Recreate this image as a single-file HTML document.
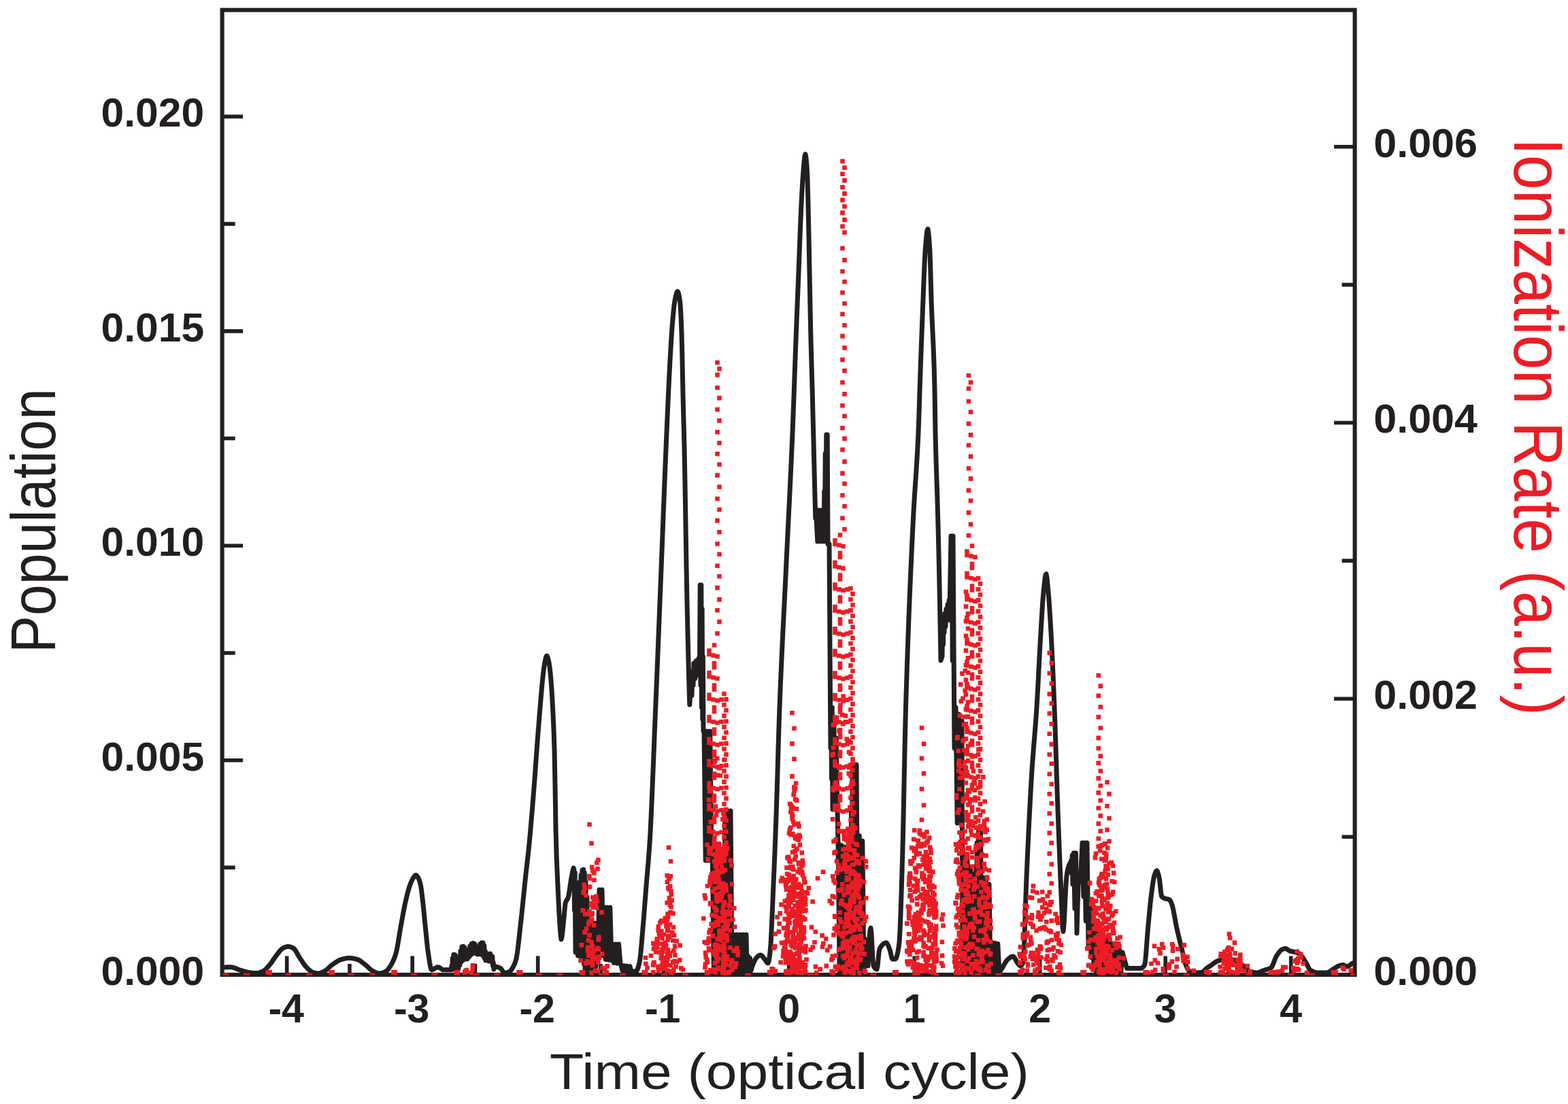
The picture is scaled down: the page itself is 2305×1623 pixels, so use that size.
<!DOCTYPE html>
<html lang="en"><head><meta charset="utf-8"><title>Population and Ionization Rate vs Time</title>
<style>html,body{margin:0;padding:0;background:#fff;}body{width:2305px;height:1623px;overflow:hidden;}svg{display:block;}text{font-family:"Liberation Sans",sans-serif;}.tk{font-weight:bold;font-size:59.2px;fill:#231f20;}</style></head><body>
<svg width="2305" height="1623" viewBox="0 0 2305 1623" role="img" aria-label="Population and ionization rate versus time (optical cycle)">
<rect width="2305" height="1623" fill="#fff"/>
<defs><clipPath id="pc"><rect x="326.6" y="14.7" width="1665.0" height="1421.3"/></clipPath></defs>
<path d="M326.60 1433.10h30.55M326.60 1275.39h19.05M326.60 1117.68h30.55M326.60 959.97h19.05M326.60 802.26h30.55M326.60 644.55h19.05M326.60 486.84h30.55M326.60 329.13h19.05M326.60 171.42h30.55M1991.60 1433.10h-30.55M1991.60 1230.20h-19.05M1991.60 1027.30h-30.55M1991.60 824.40h-19.05M1991.60 621.50h-30.55M1991.60 418.60h-19.05M1991.60 215.70h-30.55M421.70 1433.00v-27.55M513.95 1433.00v-16.05M606.20 1433.00v-27.55M698.45 1433.00v-16.05M790.70 1433.00v-27.55M882.95 1433.00v-16.05M975.20 1433.00v-27.55M1067.45 1433.00v-16.05M1159.70 1433.00v-27.55M1251.95 1433.00v-16.05M1344.20 1433.00v-27.55M1436.45 1433.00v-16.05M1528.70 1433.00v-27.55M1620.95 1433.00v-16.05M1713.20 1433.00v-27.55M1805.45 1433.00v-16.05M1897.70 1433.00v-27.55" fill="none" stroke="#231f20" stroke-width="5.60"/>
<rect x="326.60" y="14.70" width="1665.00" height="1418.30" fill="none" stroke="#231f20" stroke-width="6.10"/>
<g clip-path="url(#pc)">
<path d="M326.6 1422.5L327.6 1422.3L328.6 1422.2L329.6 1422.1L330.6 1422.0L331.6 1422.0L332.6 1421.9L333.6 1421.9L334.6 1421.8L335.6 1421.8L336.6 1421.8L337.6 1421.8L338.6 1421.8L339.6 1421.8L340.6 1421.9L341.6 1422.1L342.6 1422.3L343.6 1422.6L344.6 1422.9L345.6 1423.3L346.6 1423.7L347.6 1424.1L348.6 1424.5L349.6 1424.9L350.6 1425.3L351.6 1425.7L352.6 1426.0L353.6 1426.3L354.6 1426.6L355.6 1426.9L356.6 1427.2L357.6 1427.5L358.6 1427.8L359.6 1428.2L360.6 1428.4L361.6 1428.7L362.6 1429.0L363.6 1429.2L364.6 1429.5L365.6 1429.7L366.6 1429.8L367.6 1430.0L368.6 1430.1L369.6 1430.2L370.6 1430.2L371.6 1430.3L372.6 1430.4L373.6 1430.5L374.6 1430.5L375.6 1430.6L376.6 1430.6L377.6 1430.6L378.6 1430.5L379.6 1430.4L380.6 1430.2L381.6 1429.9L382.6 1429.5L383.6 1429.1L384.6 1428.7L385.6 1428.3L386.6 1427.8L387.6 1427.3L388.6 1426.6L389.6 1425.8L390.6 1424.9L391.6 1423.9L392.6 1422.8L393.6 1421.7L394.6 1420.5L395.6 1419.3L396.6 1418.1L397.6 1416.9L398.6 1415.6L399.6 1414.2L400.6 1412.7L401.6 1411.2L402.6 1409.7L403.6 1408.3L404.6 1406.8L405.6 1405.5L406.6 1404.2L407.6 1402.9L408.6 1401.6L409.6 1400.3L410.6 1399.0L411.6 1397.8L412.6 1396.7L413.6 1395.7L414.6 1394.8L415.6 1394.2L416.6 1393.7L417.6 1393.2L418.6 1392.7L419.6 1392.3L420.6 1392.0L421.6 1391.7L422.6 1391.6L423.6 1391.5L424.6 1391.6L425.6 1391.7L426.6 1392.0L427.6 1392.3L428.6 1392.7L429.6 1393.2L430.6 1393.7L431.6 1394.2L432.6 1395.1L433.6 1396.3L434.6 1397.8L435.6 1399.4L436.6 1401.2L437.6 1403.0L438.6 1404.8L439.6 1406.5L440.6 1408.1L441.6 1409.6L442.6 1411.1L443.6 1412.6L444.6 1414.1L445.6 1415.6L446.6 1417.1L447.6 1418.5L448.6 1419.7L449.6 1420.9L450.6 1422.0L451.6 1423.0L452.6 1424.0L453.6 1425.0L454.6 1426.0L455.6 1426.8L456.6 1427.6L457.6 1428.3L458.6 1428.9L459.6 1429.4L460.6 1429.7L461.6 1430.0L462.6 1430.3L463.6 1430.5L464.6 1430.7L465.6 1430.9L466.6 1431.0L467.6 1431.0L468.6 1430.9L469.6 1430.8L470.6 1430.5L471.6 1430.2L472.6 1429.8L473.6 1429.4L474.6 1428.9L475.6 1428.4L476.6 1427.9L477.6 1427.4L478.6 1426.8L479.6 1426.1L480.6 1425.2L481.6 1424.3L482.6 1423.4L483.6 1422.4L484.6 1421.5L485.6 1420.5L486.6 1419.6L487.6 1418.8L488.6 1418.1L489.6 1417.4L490.6 1416.7L491.6 1416.0L492.6 1415.3L493.6 1414.7L494.6 1414.0L495.6 1413.4L496.6 1412.8L497.6 1412.2L498.6 1411.7L499.6 1411.3L500.6 1410.9L501.6 1410.5L502.6 1410.3L503.6 1410.0L504.6 1409.8L505.6 1409.5L506.6 1409.3L507.6 1409.1L508.6 1408.9L509.6 1408.7L510.6 1408.6L511.6 1408.5L512.6 1408.4L513.6 1408.4L514.6 1408.4L515.6 1408.5L516.6 1408.6L517.6 1408.7L518.6 1408.9L519.6 1409.1L520.6 1409.3L521.6 1409.5L522.6 1409.7L523.6 1410.0L524.6 1410.3L525.6 1410.6L526.6 1410.9L527.6 1411.4L528.6 1412.0L529.6 1412.6L530.6 1413.4L531.6 1414.1L532.6 1414.9L533.6 1415.7L534.6 1416.5L535.6 1417.2L536.6 1418.0L537.6 1418.8L538.6 1419.6L539.6 1420.5L540.6 1421.5L541.6 1422.4L542.6 1423.4L543.6 1424.3L544.6 1425.2L545.6 1426.0L546.6 1426.7L547.6 1427.3L548.6 1427.8L549.6 1428.3L550.6 1428.8L551.6 1429.3L552.6 1429.8L553.6 1430.2L554.6 1430.5L555.6 1430.8L556.6 1430.9L557.6 1431.0L558.6 1431.0L559.6 1430.8L560.6 1430.7L561.6 1430.4L562.6 1430.1L563.6 1429.7L564.6 1429.3L565.6 1428.8L566.6 1428.4L567.6 1427.8L568.6 1427.1L569.6 1426.1L570.6 1424.9L571.6 1423.6L572.6 1422.1L573.6 1420.6L574.6 1419.0L575.6 1417.3L576.6 1415.5L577.6 1413.4L578.6 1411.2L579.6 1408.7L580.6 1406.0L581.6 1403.0L582.6 1399.4L583.6 1394.8L584.6 1389.4L585.6 1383.5L586.6 1377.3L587.6 1371.1L588.6 1365.2L589.6 1359.7L590.6 1354.2L591.6 1348.7L592.6 1343.2L593.6 1337.8L594.6 1332.7L595.6 1327.9L596.6 1323.5L597.6 1319.3L598.6 1315.2L599.6 1311.3L600.6 1307.7L601.6 1304.3L602.6 1301.3L603.6 1298.7L604.6 1296.3L605.6 1294.2L606.6 1292.2L607.6 1290.6L608.6 1289.1L609.6 1287.7L610.6 1286.7L611.6 1286.6L612.6 1287.3L613.6 1288.6L614.6 1290.2L615.6 1292.1L616.6 1294.7L617.6 1298.1L618.6 1302.4L619.6 1309.1L620.6 1317.3L621.6 1325.9L622.6 1335.3L623.6 1345.6L624.6 1356.1L625.6 1365.9L626.6 1375.8L627.6 1385.7L628.6 1394.6L629.6 1402.0L630.6 1408.6L631.6 1415.1L632.6 1420.6L633.6 1424.5L634.6 1425.7L635.6 1425.6L636.6 1425.2L637.6 1424.7L638.6 1424.1L639.6 1423.5L640.6 1422.9L641.6 1422.4L642.6 1422.0L643.6 1421.8L644.6 1421.9L645.6 1422.2L646.6 1422.8L647.6 1423.6L648.6 1424.3L649.6 1425.0L650.6 1425.5L651.6 1425.7L652.6 1425.7L653.6 1425.7L654.6 1425.7L655.6 1425.7L656.6 1425.7L657.6 1425.7L658.6 1425.7L659.6 1425.7L660.6 1425.7L661.6 1425.7L662.6 1425.7L663.2 1425.7L663.9 1420.0L664.6 1425.3L665.3 1408.7L666.0 1425.0L667.0 1403.2L668.0 1425.0L669.0 1403.8L670.0 1425.0L671.0 1407.0L672.0 1424.5L673.0 1413.0L674.0 1424.0L675.0 1410.0L676.0 1419.0L677.0 1398.0L678.0 1414.0L679.0 1391.8L680.0 1412.0L681.0 1391.2L682.0 1410.0L683.2 1393.2L684.5 1410.0L685.8 1397.8L687.0 1410.0L688.2 1397.0L689.5 1407.0L690.8 1391.0L692.0 1404.0L693.2 1387.5L694.5 1402.0L695.8 1386.5L697.0 1400.0L698.2 1388.0L699.5 1401.5L700.8 1392.0L702.0 1403.0L703.2 1392.0L704.5 1402.5L705.8 1388.0L707.0 1402.0L708.0 1386.0L709.0 1404.0L710.0 1386.0L711.0 1406.0L711.8 1390.0L712.5 1409.0L713.2 1398.0L714.0 1412.0L716.2 1402.0L718.5 1413.0L720.8 1402.0L723.0 1414.0L723.8 1406.2L724.5 1419.5L725.2 1414.8L726.0 1425.0L728.0 1421.0L729.0 1421.1L730.0 1421.2L731.0 1421.5L732.0 1421.8L733.0 1422.2L734.0 1422.7L735.0 1423.2L736.0 1423.7L737.0 1424.6L738.0 1426.0L739.0 1427.6L740.0 1429.1L741.0 1430.1L742.0 1430.4L743.0 1430.3L744.0 1430.2L745.0 1429.9L746.0 1429.6L747.0 1429.2L748.0 1428.8L749.0 1428.3L750.0 1427.7L751.0 1426.7L752.0 1425.3L753.0 1423.7L754.0 1422.0L755.0 1420.2L756.0 1418.1L757.0 1415.7L758.0 1412.7L759.0 1409.0L760.0 1403.5L761.0 1396.5L762.0 1388.4L763.0 1379.5L764.0 1370.2L765.0 1360.9L766.0 1352.0L767.0 1343.1L768.0 1333.7L769.0 1323.9L770.0 1314.1L771.0 1304.3L772.0 1294.7L773.0 1285.4L774.0 1276.6L775.0 1268.0L776.0 1259.2L777.0 1249.9L778.0 1239.9L779.0 1229.3L780.0 1218.3L781.0 1206.8L782.0 1195.0L783.0 1182.9L784.0 1170.5L785.0 1158.0L786.0 1145.0L787.0 1131.2L788.0 1117.3L789.0 1103.4L790.0 1090.0L791.0 1077.1L792.0 1064.5L793.0 1052.1L794.0 1040.0L795.0 1027.9L796.0 1016.0L797.0 1004.9L798.0 995.3L799.0 986.4L800.0 978.9L801.0 973.4L802.0 968.5L803.0 964.9L804.0 964.1L805.0 965.9L806.0 969.6L807.0 974.0L808.0 980.3L809.0 989.2L810.0 1000.0L811.0 1013.5L812.0 1030.5L813.0 1049.9L814.0 1072.5L815.0 1102.0L816.0 1154.7L817.0 1217.4L818.0 1255.6L819.0 1280.4L820.0 1302.0L821.0 1324.0L822.0 1343.9L823.0 1359.7L824.0 1374.3L825.0 1381.0L826.0 1377.6L827.0 1369.4L828.0 1359.2L829.0 1349.6L830.0 1337.8L831.0 1328.2L832.0 1325.0L833.0 1323.4L834.0 1322.1L835.0 1320.0L836.0 1315.9L837.0 1309.9L838.0 1303.0L839.0 1296.0L840.0 1290.0L841.0 1285.0L842.0 1280.3L843.0 1276.0L843.8 1278.2L844.5 1338.0L845.2 1282.8L846.0 1400.0L848.0 1300.0L849.5 1405.0L850.4 1310.2L851.2 1405.0L852.1 1296.8L853.0 1405.0L854.0 1286.5L855.0 1407.5L855.9 1279.5L856.9 1410.0L857.7 1278.2L858.5 1417.5L859.2 1282.8L860.0 1425.0L861.0 1296.2L862.0 1427.5L863.0 1318.8L864.0 1430.0L865.0 1357.0L867.2 1428.3L869.3 1357.0L871.5 1425.0L873.7 1357.0L875.8 1421.7L878.0 1357.0L879.0 1405.0L881.0 1308.0L883.0 1405.0L885.0 1308.0L887.0 1405.0L888.0 1334.0L890.2 1410.4L892.4 1334.0L894.6 1411.2L896.8 1334.0L899.0 1412.0L900.0 1388.0L902.4 1415.4L904.8 1388.0L907.2 1416.2L909.6 1388.0L912.0 1417.0L913.0 1419.0L915.1 1427.1L917.3 1419.6L919.4 1427.4L921.6 1420.1L923.7 1427.7L925.9 1420.7L928.0 1428.0L935.0 1428.0L936.0 1427.3L937.0 1425.4L938.0 1422.5L939.0 1419.0L940.0 1415.0L941.0 1408.9L942.0 1399.8L943.0 1388.6L944.0 1376.7L945.0 1365.0L946.0 1353.3L947.0 1340.8L948.0 1327.8L949.0 1314.8L950.0 1302.0L951.0 1290.1L952.0 1278.7L953.0 1267.1L954.0 1254.5L955.0 1240.0L956.0 1222.9L957.0 1203.2L958.0 1181.4L959.0 1158.0L960.0 1133.4L961.0 1108.3L962.0 1083.0L963.0 1058.1L964.0 1034.0L965.0 1010.0L966.0 985.6L967.0 960.9L968.0 936.0L969.0 911.0L970.0 886.0L971.0 860.9L972.0 836.0L973.0 810.9L974.0 785.3L975.0 759.6L976.0 733.9L977.0 708.5L978.0 683.6L979.0 659.3L980.0 636.0L981.0 613.2L982.0 590.9L983.0 569.3L984.0 548.8L985.0 530.0L986.0 512.4L987.0 495.8L988.0 481.3L989.0 469.2L990.0 458.1L991.0 448.7L992.0 442.0L993.0 437.1L994.0 432.7L995.0 429.7L996.0 428.5L997.0 429.8L998.0 433.4L999.0 438.8L1000.0 446.8L1001.0 463.9L1002.0 489.7L1003.0 530.0L1004.0 581.0L1005.0 620.0L1006.0 657.5L1007.0 711.0L1008.0 772.1L1009.0 833.1L1010.0 886.0L1011.0 930.8L1012.0 972.3L1013.0 1010.1L1013.8 1036.0L1016.0 1000.0L1017.0 1022.5L1018.0 987.5L1019.0 1007.5L1020.0 975.0L1021.8 997.5L1023.5 971.5L1025.2 992.5L1027.0 968.0L1028.5 975.0L1029.2 860.0L1030.0 1007.5L1030.8 860.0L1031.5 1040.0L1032.1 895.0L1032.8 1057.5L1033.4 965.0L1034.0 1075.0L1035.0 1075.0L1037.2 1265.0L1039.4 1075.0L1041.6 1265.0L1043.8 1075.0L1046.0 1265.0L1047.0 1240.0L1049.4 1430.0L1051.9 1242.9L1054.3 1430.0L1056.7 1245.7L1059.1 1430.0L1061.6 1248.6L1064.0 1430.0L1066.0 1192.0L1068.0 1430.0L1070.0 1192.0L1072.0 1430.0L1074.0 1192.0L1076.0 1430.0L1078.3 1374.0L1080.7 1430.0L1083.0 1374.0L1085.3 1430.0L1087.7 1374.0L1090.0 1430.0L1092.3 1374.0L1094.7 1430.0L1097.0 1374.0L1098.0 1427.0L1099.5 1405.5L1101.0 1427.0L1102.5 1408.5L1104.0 1427.0L1106.0 1420.0L1107.0 1417.4L1108.0 1415.0L1109.0 1412.8L1110.0 1410.8L1111.0 1409.2L1112.0 1408.0L1113.0 1407.0L1114.0 1406.1L1115.0 1405.2L1116.0 1404.6L1117.0 1404.2L1118.0 1404.0L1119.0 1404.3L1120.0 1405.1L1121.0 1406.2L1122.0 1407.5L1123.0 1408.8L1124.0 1410.0L1125.0 1411.3L1126.0 1412.9L1127.0 1414.4L1128.0 1415.6L1129.0 1416.0L1130.0 1413.6L1131.0 1407.7L1132.0 1400.0L1133.0 1388.0L1134.0 1369.7L1135.0 1347.4L1136.0 1323.4L1137.0 1300.0L1138.0 1277.1L1139.0 1252.8L1140.0 1227.2L1141.0 1200.0L1142.0 1169.7L1143.0 1136.2L1144.0 1101.8L1145.0 1069.0L1146.0 1040.0L1147.0 1014.7L1148.0 991.0L1149.0 968.8L1150.0 947.5L1151.0 927.0L1152.0 907.0L1153.0 887.1L1154.0 867.0L1155.0 846.5L1156.0 825.5L1157.0 804.8L1158.0 784.5L1159.0 764.5L1160.0 744.4L1161.0 724.0L1162.0 703.2L1163.0 681.8L1164.0 659.4L1165.0 636.0L1166.0 610.6L1167.0 583.3L1168.0 555.1L1169.0 526.9L1170.0 500.0L1171.0 474.4L1172.0 449.5L1173.0 424.8L1174.0 400.0L1175.0 374.0L1176.0 347.4L1177.0 322.1L1178.0 300.0L1179.0 280.7L1180.0 263.6L1181.0 250.0L1182.0 238.4L1183.0 229.1L1184.0 226.7L1185.0 232.2L1186.0 243.1L1187.0 261.8L1188.0 300.0L1189.0 347.4L1190.0 400.0L1191.0 452.4L1192.0 500.0L1193.0 534.8L1194.0 569.4L1195.0 609.1L1196.0 650.0L1197.0 690.5L1198.0 731.2L1198.8 762.0L1199.5 750.0L1201.8 796.0L1204.1 750.0L1206.4 796.0L1208.7 750.0L1211.0 796.0L1211.8 722.2L1212.5 778.0L1213.2 666.8L1214.0 760.0L1214.8 639.0L1215.5 780.0L1216.2 639.0L1217.0 800.0L1219.0 800.0L1221.0 1100.0L1221.8 1040.0L1222.5 1145.0L1223.2 1040.0L1224.0 1190.0L1225.8 1055.0L1227.5 1190.0L1229.2 1085.0L1231.0 1190.0L1232.0 1240.0L1234.2 1430.0L1236.5 1242.5L1238.8 1430.0L1241.0 1245.0L1243.2 1430.0L1245.5 1247.5L1247.8 1430.0L1250.0 1250.0L1250.8 1430.0L1251.5 1187.0L1252.2 1430.0L1253.0 1124.0L1254.5 1430.0L1256.0 1124.0L1257.5 1430.0L1259.0 1124.0L1261.0 1430.0L1263.2 1228.8L1265.5 1430.0L1267.8 1236.2L1270.0 1430.0L1271.0 1380.0L1276.0 1420.0L1277.0 1395.5L1278.0 1378.0L1279.0 1367.5L1280.0 1364.0L1281.0 1372.4L1282.0 1391.0L1283.0 1410.2L1284.0 1420.0L1285.0 1421.8L1286.0 1423.1L1287.0 1424.2L1288.0 1424.8L1289.0 1425.0L1290.0 1420.7L1291.0 1410.9L1292.0 1400.7L1293.0 1395.0L1294.0 1393.2L1295.0 1391.7L1296.0 1390.3L1297.0 1389.1L1298.0 1388.1L1299.0 1387.3L1300.0 1386.7L1301.0 1386.3L1302.0 1386.1L1303.0 1386.0L1304.0 1386.9L1305.0 1388.6L1306.0 1390.8L1307.0 1393.4L1308.0 1396.0L1309.0 1399.6L1310.0 1404.3L1311.0 1408.3L1312.0 1410.0L1313.0 1410.0L1314.0 1410.0L1315.0 1410.0L1316.0 1410.0L1317.0 1409.2L1318.0 1407.0L1319.0 1403.4L1320.0 1398.7L1321.0 1393.1L1322.0 1385.3L1323.0 1368.4L1324.0 1343.6L1325.0 1313.6L1326.0 1281.2L1327.0 1247.2L1328.0 1203.3L1329.0 1153.4L1330.0 1103.1L1331.0 1058.4L1332.0 1023.5L1333.0 991.9L1334.0 962.1L1335.0 934.0L1336.0 907.5L1337.0 882.3L1338.0 858.3L1339.0 835.5L1340.0 813.6L1341.0 792.5L1342.0 772.0L1343.0 752.4L1344.0 735.2L1345.0 719.8L1346.0 705.3L1347.0 690.6L1348.0 674.8L1349.0 656.9L1350.0 636.0L1351.0 607.9L1352.0 575.2L1353.0 545.8L1354.0 518.1L1355.0 491.2L1356.0 465.2L1357.0 440.0L1358.0 413.8L1359.0 388.5L1360.0 370.0L1361.0 357.1L1362.0 345.9L1363.0 338.4L1364.0 336.8L1365.0 342.6L1366.0 354.5L1367.0 370.0L1368.0 401.7L1369.0 440.0L1370.0 466.0L1371.0 487.1L1372.0 508.3L1373.0 534.3L1374.0 572.3L1375.0 636.0L1376.0 675.0L1377.0 705.9L1378.0 735.9L1379.0 771.8L1380.0 814.1L1381.0 861.0L1382.0 913.2L1383.0 971.0L1385.0 965.0L1385.8 923.8L1386.5 947.5L1387.2 911.2L1388.0 930.0L1389.0 901.8L1390.0 921.0L1391.0 895.2L1392.0 912.0L1393.0 889.0L1394.0 906.0L1395.0 883.0L1396.0 900.0L1398.0 788.0L1398.8 913.8L1399.5 788.0L1400.2 971.2L1401.0 788.0L1403.0 1100.0L1405.0 1040.0L1407.2 1210.0L1409.5 1050.0L1411.8 1210.0L1414.0 1060.0L1415.0 1430.0L1417.4 1255.0L1419.8 1430.0L1422.1 1265.0L1424.5 1430.0L1426.9 1275.0L1429.2 1430.0L1431.6 1285.0L1434.0 1430.0L1434.8 1273.0L1435.5 1430.0L1436.2 1239.0L1437.0 1430.0L1438.5 1222.0L1440.0 1430.0L1441.5 1222.0L1443.0 1430.0L1445.0 1290.0L1447.2 1430.0L1449.5 1295.0L1451.8 1430.0L1454.0 1300.0L1456.0 1430.0L1458.2 1385.5L1460.3 1430.0L1462.5 1386.5L1464.7 1430.0L1466.8 1387.5L1469.0 1430.0L1474.0 1422.0L1475.0 1420.0L1476.0 1418.2L1477.0 1416.4L1478.0 1414.8L1479.0 1413.4L1480.0 1412.0L1481.0 1410.9L1482.0 1410.0L1483.0 1409.2L1484.0 1408.4L1485.0 1407.6L1486.0 1407.0L1487.0 1406.5L1488.0 1406.1L1489.0 1406.0L1490.0 1406.4L1491.0 1407.5L1492.0 1409.1L1493.0 1410.9L1494.0 1412.8L1495.0 1414.6L1496.0 1416.0L1497.0 1417.3L1498.0 1418.6L1499.0 1419.6L1500.0 1420.0L1501.0 1419.7L1502.0 1418.7L1503.0 1417.1L1504.0 1415.0L1505.0 1404.1L1506.0 1380.1L1507.0 1349.0L1508.0 1317.0L1509.0 1290.0L1510.0 1267.7L1511.0 1245.9L1512.0 1224.5L1513.0 1203.9L1514.0 1184.2L1515.0 1165.6L1516.0 1148.2L1517.0 1132.2L1518.0 1118.0L1519.0 1104.9L1520.0 1092.6L1521.0 1080.5L1522.0 1068.0L1523.0 1054.7L1524.0 1040.0L1525.0 1023.3L1526.0 1005.0L1527.0 985.6L1528.0 966.2L1529.0 947.4L1530.0 930.0L1531.0 913.2L1532.0 896.6L1533.0 881.7L1534.0 870.0L1535.0 860.2L1536.0 851.3L1537.0 845.1L1538.0 843.8L1539.0 849.2L1540.0 859.0L1541.0 870.0L1542.0 881.9L1543.0 896.4L1544.0 912.6L1545.0 930.0L1546.0 948.7L1547.0 969.3L1548.0 991.5L1549.0 1015.1L1550.0 1040.0L1551.0 1067.5L1552.0 1098.0L1553.0 1129.7L1554.0 1161.0L1555.0 1190.0L1556.0 1216.9L1557.0 1243.1L1558.0 1268.3L1559.0 1292.3L1560.0 1315.0L1561.0 1340.4L1562.0 1363.2L1563.0 1369.5L1564.0 1359.7L1565.0 1341.1L1566.0 1319.4L1567.0 1299.9L1568.0 1287.8L1569.0 1281.0L1570.0 1276.9L1571.0 1273.4L1572.0 1270.6L1573.0 1268.7L1574.0 1268.0L1574.8 1264.5L1575.5 1284.0L1576.2 1257.5L1577.0 1300.0L1578.5 1254.0L1580.0 1336.0L1581.5 1254.0L1583.0 1372.0L1585.0 1300.0L1586.0 1296.9L1587.0 1292.5L1588.0 1287.1L1589.0 1280.0L1591.0 1239.0L1592.8 1318.0L1594.5 1239.0L1596.2 1354.0L1598.0 1239.0L1600.0 1390.0L1602.0 1328.0L1604.0 1407.5L1606.0 1328.0L1608.0 1425.0L1609.0 1365.0L1611.3 1430.0L1613.6 1368.9L1615.8 1430.0L1618.1 1372.8L1620.4 1430.0L1622.7 1376.7L1624.9 1430.0L1627.2 1380.6L1629.5 1430.0L1631.8 1384.4L1634.1 1430.0L1636.3 1388.3L1638.6 1430.0L1640.9 1392.2L1643.2 1430.0L1645.4 1396.1L1647.7 1430.0L1650.0 1400.0L1656.5 1423.5L1657.5 1423.5L1658.5 1423.5L1659.5 1423.5L1660.5 1423.5L1661.5 1423.5L1662.5 1423.5L1663.5 1423.5L1664.5 1423.5L1665.5 1423.5L1666.5 1423.5L1667.5 1423.5L1668.5 1423.5L1669.5 1423.5L1670.5 1423.5L1671.5 1423.5L1672.5 1423.5L1673.5 1423.5L1674.5 1423.5L1675.5 1423.5L1676.5 1423.5L1677.5 1423.4L1678.5 1423.0L1679.5 1422.3L1680.5 1421.4L1681.5 1420.3L1682.5 1419.0L1683.5 1414.1L1684.5 1403.9L1685.5 1390.8L1686.5 1377.0L1687.5 1365.0L1688.5 1354.4L1689.5 1343.6L1690.5 1333.1L1691.5 1323.4L1692.5 1315.0L1693.5 1307.4L1694.5 1300.1L1695.5 1293.7L1696.5 1288.8L1697.5 1285.5L1698.5 1282.8L1699.5 1280.8L1700.5 1280.0L1701.5 1281.1L1702.5 1284.1L1703.5 1287.9L1704.5 1292.8L1705.5 1301.7L1706.5 1311.3L1707.5 1317.5L1708.5 1318.7L1709.5 1319.5L1710.5 1320.1L1711.5 1320.5L1712.5 1320.8L1713.5 1321.2L1714.5 1321.4L1715.5 1321.6L1716.5 1321.7L1717.5 1322.0L1718.5 1322.3L1719.5 1322.9L1720.5 1324.4L1721.5 1326.5L1722.5 1329.0L1723.5 1332.1L1724.5 1336.3L1725.5 1341.2L1726.5 1346.6L1727.5 1352.1L1728.5 1357.6L1729.5 1362.7L1730.5 1367.2L1731.5 1371.5L1732.5 1375.8L1733.5 1379.9L1734.5 1384.0L1735.5 1388.0L1736.5 1392.0L1737.5 1396.0L1738.5 1400.2L1739.5 1404.6L1740.5 1408.9L1741.5 1413.0L1742.5 1416.6L1743.5 1419.4L1744.5 1421.6L1745.5 1423.5L1746.5 1425.3L1747.5 1426.9L1748.5 1428.1L1749.5 1428.8L1750.5 1429.1L1751.5 1429.3L1752.5 1429.5L1753.5 1429.7L1754.5 1429.8L1755.5 1429.9L1756.5 1430.0L1757.5 1430.0L1758.5 1430.0L1759.5 1430.0L1760.5 1429.9L1761.5 1429.9L1762.5 1429.8L1763.5 1429.7L1764.5 1429.6L1765.5 1429.4L1766.5 1429.3L1767.5 1429.1L1768.5 1428.8L1769.5 1428.0L1770.5 1426.9L1771.5 1425.6L1772.5 1424.5L1773.5 1423.6L1774.5 1422.9L1775.5 1422.2L1776.5 1421.6L1777.5 1421.0L1778.5 1420.3L1779.5 1419.7L1780.5 1419.0L1781.5 1418.2L1782.5 1417.5L1783.5 1416.7L1784.5 1416.0L1785.5 1415.3L1786.5 1414.6L1787.5 1414.0L1788.5 1413.5L1789.5 1413.0L1790.5 1412.6L1791.5 1412.2L1792.5 1411.8L1793.5 1411.4L1794.5 1411.1L1795.5 1410.8L1796.5 1410.5L1797.5 1410.3L1798.5 1410.1L1799.5 1410.0L1800.5 1410.0L1801.5 1410.0L1802.5 1410.1L1803.5 1410.1L1804.5 1410.2L1805.5 1410.2L1806.5 1410.3L1807.5 1410.4L1808.5 1410.5L1809.5 1410.7L1810.5 1410.8L1811.5 1410.9L1812.5 1411.1L1813.5 1411.3L1814.5 1411.6L1815.5 1412.0L1816.5 1412.5L1817.5 1413.0L1818.5 1413.6L1819.5 1414.2L1820.5 1414.8L1821.5 1415.5L1822.5 1416.2L1823.5 1416.9L1824.5 1417.6L1825.5 1418.3L1826.5 1419.0L1827.5 1419.8L1828.5 1420.6L1829.5 1421.6L1830.5 1422.7L1831.5 1423.7L1832.5 1424.7L1833.5 1425.7L1834.5 1426.6L1835.5 1427.3L1836.5 1427.8L1837.5 1428.2L1838.5 1428.5L1839.5 1428.7L1840.5 1429.0L1841.5 1429.2L1842.5 1429.5L1843.5 1429.6L1844.5 1429.8L1845.5 1429.9L1846.5 1430.0L1847.5 1430.0L1848.5 1429.9L1849.5 1429.8L1850.5 1429.5L1851.5 1429.2L1852.5 1428.8L1853.5 1428.4L1854.5 1428.0L1855.5 1427.5L1856.5 1427.1L1857.5 1426.7L1858.5 1426.3L1859.5 1426.0L1860.5 1425.7L1861.5 1425.4L1862.5 1425.2L1863.5 1424.8L1864.5 1424.5L1865.5 1424.1L1866.5 1423.7L1867.5 1423.2L1868.5 1422.6L1869.5 1421.6L1870.5 1419.8L1871.5 1417.5L1872.5 1414.9L1873.5 1412.2L1874.5 1409.6L1875.5 1407.2L1876.5 1405.4L1877.5 1403.9L1878.5 1402.4L1879.5 1401.0L1880.5 1399.6L1881.5 1398.4L1882.5 1397.4L1883.5 1396.6L1884.5 1396.0L1885.5 1395.6L1886.5 1395.2L1887.5 1394.8L1888.5 1394.6L1889.5 1394.5L1890.5 1394.6L1891.5 1395.1L1892.5 1395.7L1893.5 1396.5L1894.5 1397.2L1895.5 1397.8L1896.5 1398.1L1897.5 1398.4L1898.5 1398.6L1899.5 1398.8L1900.5 1399.0L1901.5 1399.2L1902.5 1399.4L1903.5 1399.7L1904.5 1399.9L1905.5 1400.2L1906.5 1400.5L1907.5 1400.9L1908.5 1401.3L1909.5 1401.7L1910.5 1402.3L1911.5 1403.1L1912.5 1404.2L1913.5 1405.5L1914.5 1406.9L1915.5 1408.4L1916.5 1409.9L1917.5 1411.5L1918.5 1413.0L1919.5 1414.6L1920.5 1416.4L1921.5 1418.4L1922.5 1420.5L1923.5 1422.4L1924.5 1424.1L1925.5 1425.5L1926.5 1426.4L1927.5 1427.0L1928.5 1427.5L1929.5 1428.0L1930.5 1428.5L1931.5 1428.9L1932.5 1429.2L1933.5 1429.5L1934.5 1429.8L1935.5 1429.9L1936.5 1430.0L1937.5 1430.0L1938.5 1430.0L1939.5 1430.0L1940.5 1430.0L1941.5 1430.0L1942.5 1430.0L1943.5 1430.0L1944.5 1430.0L1945.5 1430.0L1946.5 1430.0L1947.5 1430.0L1948.5 1430.0L1949.5 1430.0L1950.5 1430.0L1951.5 1429.8L1952.5 1429.4L1953.5 1429.0L1954.5 1428.4L1955.5 1427.7L1956.5 1427.0L1957.5 1426.3L1958.5 1425.6L1959.5 1424.9L1960.5 1424.2L1961.5 1423.7L1962.5 1423.0L1963.5 1422.4L1964.5 1421.8L1965.5 1421.2L1966.5 1420.6L1967.5 1420.2L1968.5 1419.8L1969.5 1419.5L1970.5 1419.2L1971.5 1418.9L1972.5 1418.7L1973.5 1418.6L1974.5 1418.6L1975.5 1419.0L1976.5 1419.5L1977.5 1420.1L1978.5 1420.6L1979.5 1421.0L1980.5 1421.0L1981.5 1420.7L1982.5 1420.2L1983.5 1419.5L1984.5 1418.7L1985.5 1417.9L1986.5 1417.2L1987.5 1416.5L1988.5 1416.0L1989.5 1415.6L1990.5 1415.3L1991.5 1415.0L1991.6 1415.0" fill="none" stroke="#231f20" stroke-width="7.00" stroke-linejoin="round" stroke-linecap="round"/>
<path d="M691.7 1419.4h6.6M691.4 1422.7h6.6M691.5 1424.7h6.6M682.6 1426.1h6.6M680.8 1427.7h6.6M680.0 1429.4h6.6M689.3 1430.0h6.6M863.2 1212.0h6.6M866.2 1239.8h6.6M876.1 1264.3h6.6M874.0 1268.2h6.6M867.0 1274.9h6.6M875.2 1277.3h6.6M868.2 1280.2h6.6M870.1 1283.5h6.6M863.0 1288.1h6.6M863.3 1291.4h6.6M870.1 1293.8h6.6M855.4 1300.8h6.6M863.7 1303.6h6.6M855.9 1305.9h6.6M854.4 1312.1h6.6M858.1 1316.2h6.6M873.2 1317.8h6.6M868.0 1319.4h6.6M869.8 1322.4h6.6M874.5 1324.8h6.6M866.7 1327.8h6.6M872.4 1329.9h6.6M866.7 1331.0h6.6M868.2 1333.9h6.6M874.0 1334.4h6.6M853.4 1338.4h6.6M863.2 1340.4h6.6M881.3 1341.2h6.6M867.3 1342.6h6.6M862.2 1343.7h6.6M857.0 1344.0h6.6M866.3 1345.4h6.6M867.0 1352.4h6.6M862.9 1354.8h6.6M865.1 1355.3h6.6M861.8 1358.4h6.6M869.9 1360.3h6.6M858.7 1365.5h6.6M856.2 1370.6h6.6M863.3 1374.8h6.6M877.1 1377.7h6.6M876.5 1381.1h6.6M861.6 1382.4h6.6M866.4 1385.3h6.6M851.6 1389.4h6.6M867.7 1391.6h6.6M861.2 1392.8h6.6M875.1 1393.7h6.6M876.5 1395.2h6.6M860.7 1396.4h6.6M861.2 1397.4h6.6M869.7 1398.4h6.6M865.1 1399.2h6.6M863.0 1401.9h6.6M881.9 1402.3h6.6M868.2 1403.1h6.6M861.9 1404.7h6.6M875.8 1406.5h6.6M877.9 1407.7h6.6M869.0 1408.6h6.6M871.0 1409.7h6.6M871.9 1410.0h6.6M867.4 1411.3h6.6M850.3 1412.3h6.6M859.8 1413.1h6.6M876.2 1414.4h6.6M861.5 1415.0h6.6M857.8 1416.3h6.6M867.5 1417.6h6.6M867.7 1419.1h6.6M889.3 1420.4h6.6M882.4 1422.8h6.6M885.9 1425.9h6.6M872.0 1426.8h6.6M875.6 1427.6h6.6M888.7 1429.6h6.6M866.1 1430.0h6.6M979.7 1246.0h6.6M982.7 1266.3h6.6M979.7 1289.6h6.6M977.4 1287.0h6.6M982.6 1288.2h6.6M980.6 1291.9h6.6M977.5 1296.8h6.6M981.9 1303.0h6.6M979.0 1305.3h6.6M980.1 1307.2h6.6M983.1 1310.2h6.6M983.6 1314.8h6.6M980.6 1320.0h6.6M984.4 1323.7h6.6M981.3 1326.1h6.6M977.4 1327.1h6.6M981.7 1329.1h6.6M981.6 1330.4h6.6M983.3 1333.3h6.6M982.2 1341.4h6.6M986.3 1342.9h6.6M978.2 1343.6h6.6M979.0 1347.7h6.6M974.5 1349.7h6.6M977.9 1351.1h6.6M976.5 1352.5h6.6M968.8 1353.5h6.6M974.2 1354.7h6.6M967.1 1356.4h6.6M978.7 1358.7h6.6M981.6 1359.4h6.6M976.3 1360.8h6.6M976.2 1361.8h6.6M964.6 1362.2h6.6M986.6 1363.1h6.6M977.8 1364.2h6.6M977.8 1365.2h6.6M978.9 1366.4h6.6M964.4 1367.8h6.6M977.9 1368.3h6.6M969.0 1369.1h6.6M984.7 1370.7h6.6M985.1 1371.5h6.6M965.6 1372.2h6.6M972.5 1373.8h6.6M987.6 1374.7h6.6M966.3 1374.7h6.6M968.1 1375.3h6.6M978.8 1376.2h6.6M966.7 1377.2h6.6M980.9 1378.2h6.6M970.3 1379.5h6.6M962.4 1380.2h6.6M978.3 1381.8h6.6M985.9 1382.7h6.6M991.4 1383.5h6.6M963.1 1384.4h6.6M963.1 1385.9h6.6M974.5 1385.9h6.6M957.0 1386.9h6.6M969.6 1387.5h6.6M958.7 1388.3h6.6M996.3 1389.9h6.6M975.9 1390.2h6.6M988.9 1391.1h6.6M961.2 1392.6h6.6M962.7 1392.4h6.6M972.4 1394.0h6.6M972.3 1394.4h6.6M957.7 1395.0h6.6M969.7 1395.7h6.6M978.8 1396.5h6.6M987.0 1397.8h6.6M971.1 1398.4h6.6M960.8 1399.5h6.6M966.2 1400.2h6.6M981.7 1401.0h6.6M977.9 1401.9h6.6M969.6 1403.0h6.6M978.7 1403.1h6.6M953.6 1405.0h6.6M989.1 1404.3h6.6M981.5 1405.2h6.6M969.2 1406.1h6.6M945.7 1408.0h6.6M968.5 1408.8h6.6M974.6 1408.4h6.6M978.3 1409.8h6.6M970.8 1410.8h6.6M995.9 1411.4h6.6M988.4 1413.0h6.6M976.7 1412.8h6.6M991.4 1413.9h6.6M985.9 1414.4h6.6M958.3 1414.8h6.6M957.5 1416.0h6.6M976.9 1415.8h6.6M946.1 1416.7h6.6M972.5 1416.8h6.6M970.2 1417.9h6.6M956.9 1418.6h6.6M976.7 1419.0h6.6M982.4 1419.1h6.6M965.1 1420.8h6.6M990.2 1421.1h6.6M964.1 1421.5h6.6M948.2 1422.7h6.6M974.6 1422.1h6.6M997.9 1423.4h6.6M971.3 1423.8h6.6M965.6 1424.4h6.6M968.5 1424.7h6.6M987.0 1425.1h6.6M1000.4 1425.5h6.6M978.2 1426.9h6.6M987.0 1427.3h6.6M964.7 1427.4h6.6M983.4 1428.1h6.6M956.9 1429.4h6.6M983.6 1430.0h6.6M1051.2 533.0h6.6M1054.2 542.2h6.6M1051.2 551.1h6.6M1051.2 570.0h6.6M1054.2 585.1h6.6M1051.2 602.0h6.6M1054.2 618.4h6.6M1051.2 635.3h6.6M1054.2 651.2h6.6M1051.2 667.3h6.6M1054.2 682.7h6.6M1051.2 698.6h6.6M1054.2 715.8h6.6M1051.2 733.2h6.6M1054.2 749.3h6.6M1051.2 765.4h6.6M1054.2 782.2h6.6M1051.2 799.5h6.6M1054.2 814.8h6.6M1051.2 831.8h6.6M1054.2 847.3h6.6M1051.2 864.1h6.6M1054.2 881.4h6.6M1051.2 897.3h6.6M1054.2 914.1h6.6M1051.2 931.3h6.6M1039.2 962.0h6.6M1045.2 963.5h6.6M1051.2 965.0h6.6M1039.2 956.5h6.6M1046.7 948.5h6.6M1039.2 994.5h6.6M1045.2 996.0h6.6M1051.2 997.5h6.6M1039.2 989.0h6.6M1046.7 981.0h6.6M1046.7 975.0h6.6M1039.2 1027.0h6.6M1045.2 1028.5h6.6M1051.2 1030.0h6.6M1057.2 1028.5h6.6M1039.2 1021.5h6.6M1046.7 1013.5h6.6M1046.7 1007.5h6.6M1039.2 1059.5h6.6M1045.2 1061.0h6.6M1051.2 1062.5h6.6M1057.2 1061.0h6.6M1039.2 1054.0h6.6M1046.7 1046.0h6.6M1046.7 1040.0h6.6M1039.2 1092.0h6.6M1045.2 1093.5h6.6M1051.2 1095.0h6.6M1057.2 1093.5h6.6M1039.2 1086.5h6.6M1046.7 1078.5h6.6M1046.7 1072.5h6.6M1039.2 1124.5h6.6M1045.2 1126.0h6.6M1051.2 1127.5h6.6M1057.2 1126.0h6.6M1039.2 1119.0h6.6M1046.7 1111.0h6.6M1046.7 1105.0h6.6M1039.2 1157.0h6.6M1045.2 1158.5h6.6M1051.2 1160.0h6.6M1057.2 1158.5h6.6M1039.2 1151.5h6.6M1046.7 1143.5h6.6M1046.7 1137.5h6.6M1039.2 1189.5h6.6M1045.2 1191.0h6.6M1051.2 1192.5h6.6M1057.2 1191.0h6.6M1039.2 1184.0h6.6M1046.7 1176.0h6.6M1046.7 1170.0h6.6M1039.2 1222.0h6.6M1045.2 1223.5h6.6M1051.2 1225.0h6.6M1057.2 1223.5h6.6M1039.2 1216.5h6.6M1046.7 1208.5h6.6M1046.7 1202.5h6.6M1039.2 1254.5h6.6M1045.2 1256.0h6.6M1051.2 1257.5h6.6M1057.2 1256.0h6.6M1039.2 1249.0h6.6M1046.7 1241.0h6.6M1046.7 1235.0h6.6M1061.2 1020.0h6.6M1064.2 1028.1h6.6M1061.2 1036.2h6.6M1064.2 1044.3h6.6M1061.2 1052.4h6.6M1064.2 1060.5h6.6M1061.2 1068.6h6.6M1064.2 1076.7h6.6M1061.2 1084.8h6.6M1064.2 1092.9h6.6M1061.2 1101.0h6.6M1064.2 1109.1h6.6M1061.2 1117.2h6.6M1064.2 1125.3h6.6M1061.2 1133.4h6.6M1064.2 1141.5h6.6M1061.2 1149.6h6.6M1064.2 1157.7h6.6M1061.2 1165.8h6.6M1064.2 1173.9h6.6M1061.2 1182.0h6.6M1064.2 1190.1h6.6M1061.2 1198.2h6.6M1064.2 1206.3h6.6M1061.2 1214.4h6.6M1064.2 1222.5h6.6M1061.2 1230.6h6.6M1064.2 1238.7h6.6M1061.2 1246.8h6.6M1064.2 1254.9h6.6M1061.2 1263.0h6.6M1051.0 1115.0h6.6M1062.1 1116.8h6.6M1047.8 1118.2h6.6M1047.3 1119.7h6.6M1054.1 1129.1h6.6M1051.4 1139.6h6.6M1055.6 1140.3h6.6M1041.3 1161.7h6.6M1039.8 1163.5h6.6M1046.2 1170.7h6.6M1038.7 1175.9h6.6M1045.9 1177.5h6.6M1048.6 1185.5h6.6M1061.2 1192.2h6.6M1059.9 1195.5h6.6M1049.6 1198.5h6.6M1061.8 1202.8h6.6M1059.1 1204.4h6.6M1041.4 1208.4h6.6M1044.2 1222.8h6.6M1047.1 1230.9h6.6M1053.7 1240.6h6.6M1040.8 1246.7h6.6M1041.8 1248.4h6.6M1061.5 1257.0h6.6M1047.8 1240.0h6.6M1036.2 1242.0h6.6M1061.5 1242.7h6.6M1048.6 1243.9h6.6M1047.1 1244.6h6.6M1062.7 1245.7h6.6M1053.0 1246.6h6.6M1066.1 1247.4h6.6M1056.6 1249.0h6.6M1063.6 1251.0h6.6M1050.8 1251.5h6.6M1060.9 1253.0h6.6M1054.8 1254.4h6.6M1054.9 1255.2h6.6M1056.4 1256.8h6.6M1051.4 1257.5h6.6M1049.3 1258.7h6.6M1060.3 1259.9h6.6M1050.0 1261.1h6.6M1055.7 1262.6h6.6M1037.5 1263.5h6.6M1070.8 1264.9h6.6M1061.3 1265.5h6.6M1046.8 1266.3h6.6M1048.8 1267.1h6.6M1050.8 1268.6h6.6M1056.7 1269.2h6.6M1048.4 1272.0h6.6M1072.3 1272.2h6.6M1049.4 1273.7h6.6M1058.0 1275.4h6.6M1050.6 1276.8h6.6M1060.1 1278.7h6.6M1062.7 1279.3h6.6M1056.3 1280.4h6.6M1059.3 1281.4h6.6M1053.7 1282.8h6.6M1047.1 1283.2h6.6M1044.8 1284.2h6.6M1042.4 1286.0h6.6M1042.5 1287.0h6.6M1052.1 1287.9h6.6M1045.8 1288.5h6.6M1041.0 1289.7h6.6M1042.3 1290.4h6.6M1040.9 1291.3h6.6M1047.0 1292.9h6.6M1053.8 1293.9h6.6M1048.4 1294.9h6.6M1040.1 1295.6h6.6M1047.6 1296.8h6.6M1054.6 1297.8h6.6M1059.7 1298.9h6.6M1072.5 1299.8h6.6M1040.8 1300.5h6.6M1063.4 1301.4h6.6M1036.7 1302.5h6.6M1059.3 1303.2h6.6M1052.9 1304.6h6.6M1064.2 1305.9h6.6M1047.5 1306.5h6.6M1061.3 1307.4h6.6M1059.4 1308.5h6.6M1064.5 1309.1h6.6M1043.9 1310.5h6.6M1059.4 1311.8h6.6M1056.5 1312.5h6.6M1057.1 1313.0h6.6M1049.7 1314.6h6.6M1051.7 1315.2h6.6M1032.6 1316.3h6.6M1069.7 1317.4h6.6M1057.7 1318.8h6.6M1053.5 1319.1h6.6M1033.6 1320.6h6.6M1049.9 1321.1h6.6M1054.8 1322.3h6.6M1054.2 1323.5h6.6M1070.5 1324.4h6.6M1050.3 1325.3h6.6M1061.5 1326.2h6.6M1041.4 1327.6h6.6M1040.7 1328.8h6.6M1042.2 1329.1h6.6M1060.8 1330.4h6.6M1068.2 1331.3h6.6M1069.2 1332.5h6.6M1047.0 1333.8h6.6M1059.7 1334.4h6.6M1076.0 1335.2h6.6M1049.1 1336.9h6.6M1049.8 1337.2h6.6M1049.6 1338.7h6.6M1069.7 1339.9h6.6M1063.6 1340.6h6.6M1058.6 1341.4h6.6M1066.4 1342.3h6.6M1063.8 1343.1h6.6M1070.2 1344.3h6.6M1043.3 1345.4h6.6M1048.8 1346.0h6.6M1062.5 1346.1h6.6M1048.8 1347.2h6.6M1060.9 1348.4h6.6M1055.6 1349.5h6.6M1054.2 1350.6h6.6M1031.0 1350.3h6.6M1073.7 1351.5h6.6M1054.5 1352.9h6.6M1059.7 1353.7h6.6M1067.9 1353.7h6.6M1053.0 1354.3h6.6M1063.0 1354.7h6.6M1050.9 1355.3h6.6M1049.2 1356.8h6.6M1050.7 1357.3h6.6M1066.1 1358.8h6.6M1042.5 1358.6h6.6M1052.6 1359.3h6.6M1064.6 1359.7h6.6M1063.4 1360.9h6.6M1046.9 1361.2h6.6M1076.9 1362.5h6.6M1060.3 1363.2h6.6M1064.6 1364.6h6.6M1065.0 1365.6h6.6M1061.3 1366.6h6.6M1041.8 1366.7h6.6M1040.4 1367.6h6.6M1069.4 1367.4h6.6M1056.1 1368.7h6.6M1054.1 1368.2h6.6M1058.2 1369.8h6.6M1054.9 1369.8h6.6M1039.3 1370.9h6.6M1059.2 1370.9h6.6M1057.7 1371.5h6.6M1054.4 1372.2h6.6M1054.4 1373.9h6.6M1054.8 1374.2h6.6M1063.6 1374.7h6.6M1044.6 1375.6h6.6M1064.4 1375.4h6.6M1061.6 1376.8h6.6M1044.5 1376.3h6.6M1064.5 1377.7h6.6M1061.0 1378.7h6.6M1065.4 1378.2h6.6M1056.7 1379.0h6.6M1038.6 1379.6h6.6M1051.6 1380.6h6.6M1056.1 1381.2h6.6M1056.6 1382.1h6.6M1065.2 1382.8h6.6M1038.2 1383.8h6.6M1037.9 1383.6h6.6M1038.7 1384.1h6.6M1032.4 1385.0h6.6M1034.9 1386.2h6.6M1036.7 1386.5h6.6M1060.8 1387.9h6.6M1048.9 1388.3h6.6M1047.4 1389.6h6.6M1051.6 1390.1h6.6M1057.2 1391.5h6.6M1070.3 1393.0h6.6M1079.8 1393.7h6.6M1062.1 1394.0h6.6M1038.7 1394.2h6.6M1051.4 1395.6h6.6M1048.5 1395.8h6.6M1039.5 1397.0h6.6M1056.7 1396.7h6.6M1075.4 1397.6h6.6M1060.1 1398.1h6.6M1044.9 1398.7h6.6M1081.4 1399.3h6.6M1033.8 1400.6h6.6M1048.5 1401.1h6.6M1050.8 1401.5h6.6M1047.0 1402.7h6.6M1062.1 1402.0h6.6M1081.3 1404.0h6.6M1048.8 1404.4h6.6M1060.8 1405.9h6.6M1066.0 1406.2h6.6M1034.3 1407.1h6.6M1050.2 1408.2h6.6M1053.0 1409.0h6.6M1035.9 1410.6h6.6M1065.5 1410.6h6.6M1060.5 1411.1h6.6M1073.1 1411.8h6.6M1059.8 1412.4h6.6M1051.2 1413.1h6.6M1071.8 1414.1h6.6M1036.6 1414.7h6.6M1047.6 1415.9h6.6M1062.5 1416.3h6.6M1078.8 1416.4h6.6M1033.6 1417.5h6.6M1059.9 1417.5h6.6M1063.5 1418.2h6.6M1070.4 1419.2h6.6M1059.9 1419.9h6.6M1033.6 1420.4h6.6M1077.5 1421.4h6.6M1052.8 1422.5h6.6M1033.2 1422.3h6.6M1059.9 1423.7h6.6M1052.2 1424.8h6.6M1060.7 1424.7h6.6M1072.9 1425.7h6.6M1045.8 1425.2h6.6M1059.0 1426.9h6.6M1041.0 1426.4h6.6M1046.2 1427.6h6.6M1041.7 1427.6h6.6M1068.7 1428.5h6.6M1060.5 1428.5h6.6M1064.0 1429.9h6.6M1048.4 1429.3h6.6M1058.7 1430.0h6.6M1067.9 1430.0h6.6M1161.2 1048.0h6.6M1164.2 1070.8h6.6M1161.2 1093.4h6.6M1164.2 1115.7h6.6M1161.2 1141.4h6.6M1166.9 1151.5h6.6M1164.1 1157.0h6.6M1165.9 1159.2h6.6M1164.3 1162.7h6.6M1163.3 1168.2h6.6M1165.8 1175.0h6.6M1167.9 1176.7h6.6M1158.1 1181.8h6.6M1159.9 1184.1h6.6M1159.6 1186.6h6.6M1162.1 1187.1h6.6M1162.8 1188.7h6.6M1167.7 1189.3h6.6M1159.1 1193.6h6.6M1161.1 1196.9h6.6M1161.9 1199.8h6.6M1161.3 1203.7h6.6M1162.9 1207.8h6.6M1170.1 1210.8h6.6M1164.2 1212.1h6.6M1171.2 1214.9h6.6M1158.8 1216.8h6.6M1157.6 1220.0h6.6M1156.7 1225.0h6.6M1162.1 1225.9h6.6M1159.1 1226.9h6.6M1171.4 1227.9h6.6M1165.1 1229.2h6.6M1172.7 1230.3h6.6M1166.5 1231.3h6.6M1165.9 1232.1h6.6M1167.8 1233.2h6.6M1170.5 1234.8h6.6M1172.6 1241.9h6.6M1163.5 1243.7h6.6M1167.9 1247.8h6.6M1168.0 1248.5h6.6M1165.4 1251.4h6.6M1161.8 1252.7h6.6M1175.5 1253.6h6.6M1166.4 1258.8h6.6M1155.9 1259.7h6.6M1154.1 1260.9h6.6M1156.0 1262.0h6.6M1164.9 1263.4h6.6M1176.5 1265.0h6.6M1157.3 1265.6h6.6M1158.6 1266.7h6.6M1170.6 1268.2h6.6M1177.1 1269.3h6.6M1171.0 1270.1h6.6M1176.5 1271.3h6.6M1175.7 1272.7h6.6M1161.9 1274.0h6.6M1158.9 1274.1h6.6M1153.2 1275.6h6.6M1159.9 1276.8h6.6M1172.0 1277.6h6.6M1163.0 1278.3h6.6M1174.3 1279.9h6.6M1171.4 1280.6h6.6M1169.5 1281.9h6.6M1176.0 1282.2h6.6M1174.3 1283.4h6.6M1153.8 1284.7h6.6M1156.3 1286.0h6.6M1176.7 1286.4h6.6M1163.3 1287.9h6.6M1160.8 1288.8h6.6M1161.4 1289.1h6.6M1158.7 1290.0h6.6M1178.6 1291.5h6.6M1167.0 1292.5h6.6M1156.9 1292.6h6.6M1165.3 1293.1h6.6M1153.1 1294.8h6.6M1164.0 1295.5h6.6M1180.3 1296.8h6.6M1162.3 1297.2h6.6M1179.2 1297.3h6.6M1151.5 1298.5h6.6M1170.8 1299.9h6.6M1167.0 1300.0h6.6M1163.7 1301.1h6.6M1152.1 1302.8h6.6M1174.2 1302.1h6.6M1171.7 1303.8h6.6M1160.2 1304.4h6.6M1174.2 1304.9h6.6M1155.7 1305.8h6.6M1157.3 1306.4h6.6M1152.7 1307.6h6.6M1162.5 1308.3h6.6M1158.0 1309.2h6.6M1175.4 1310.1h6.6M1163.2 1312.0h6.6M1164.1 1313.0h6.6M1174.2 1313.1h6.6M1169.1 1313.9h6.6M1165.7 1314.2h6.6M1176.1 1315.3h6.6M1156.1 1316.6h6.6M1171.5 1317.5h6.6M1167.8 1318.0h6.6M1161.3 1318.6h6.6M1179.8 1319.0h6.6M1157.6 1320.2h6.6M1180.9 1321.8h6.6M1174.0 1321.2h6.6M1162.8 1322.9h6.6M1154.3 1323.3h6.6M1150.6 1324.9h6.6M1178.5 1325.7h6.6M1176.1 1325.9h6.6M1170.8 1326.4h6.6M1169.3 1327.0h6.6M1155.9 1327.8h6.6M1180.0 1328.5h6.6M1170.1 1328.8h6.6M1180.9 1329.5h6.6M1176.8 1330.7h6.6M1165.5 1331.5h6.6M1151.8 1332.8h6.6M1155.9 1332.2h6.6M1170.2 1333.7h6.6M1156.4 1333.0h6.6M1169.8 1334.0h6.6M1153.2 1335.4h6.6M1172.7 1335.5h6.6M1178.0 1336.7h6.6M1181.1 1337.8h6.6M1170.6 1337.2h6.6M1161.1 1338.3h6.6M1171.7 1338.5h6.6M1152.9 1339.8h6.6M1174.5 1339.8h6.6M1164.5 1340.1h6.6M1170.7 1341.5h6.6M1166.9 1342.4h6.6M1155.5 1343.0h6.6M1164.6 1343.3h6.6M1161.7 1344.4h6.6M1171.3 1344.3h6.6M1165.9 1345.5h6.6M1173.0 1346.5h6.6M1161.7 1346.4h6.6M1158.1 1347.6h6.6M1175.2 1348.6h6.6M1156.9 1348.4h6.6M1177.0 1349.0h6.6M1180.1 1351.0h6.6M1154.4 1351.8h6.6M1167.6 1352.7h6.6M1156.8 1352.7h6.6M1173.2 1353.2h6.6M1165.1 1354.9h6.6M1169.2 1355.8h6.6M1155.3 1356.3h6.6M1170.0 1356.0h6.6M1168.9 1357.2h6.6M1170.8 1358.4h6.6M1173.7 1358.2h6.6M1172.1 1359.4h6.6M1166.9 1360.5h6.6M1172.9 1361.7h6.6M1165.4 1362.0h6.6M1154.7 1362.3h6.6M1175.1 1363.3h6.6M1178.7 1363.6h6.6M1150.7 1364.8h6.6M1164.4 1365.7h6.6M1165.5 1365.5h6.6M1154.5 1366.9h6.6M1166.7 1367.8h6.6M1174.0 1368.5h6.6M1177.7 1369.6h6.6M1159.4 1370.5h6.6M1178.5 1370.0h6.6M1174.1 1371.8h6.6M1153.0 1372.1h6.6M1162.5 1372.9h6.6M1177.7 1373.7h6.6M1173.2 1374.5h6.6M1152.3 1375.0h6.6M1153.4 1375.4h6.6M1162.5 1376.9h6.6M1155.0 1376.9h6.6M1177.2 1377.2h6.6M1169.2 1378.5h6.6M1164.2 1379.7h6.6M1178.6 1379.2h6.6M1170.4 1380.9h6.6M1154.0 1380.5h6.6M1162.2 1381.7h6.6M1163.8 1381.1h6.6M1165.7 1382.1h6.6M1155.5 1383.7h6.6M1164.5 1383.7h6.6M1158.7 1384.7h6.6M1151.4 1384.8h6.6M1164.9 1385.0h6.6M1148.7 1386.4h6.6M1174.2 1386.0h6.6M1164.2 1387.4h6.6M1151.1 1388.5h6.6M1159.5 1389.2h6.6M1160.0 1389.1h6.6M1181.3 1390.7h6.6M1171.8 1391.3h6.6M1151.0 1391.9h6.6M1161.8 1392.0h6.6M1175.5 1393.0h6.6M1149.7 1393.8h6.6M1166.3 1393.5h6.6M1177.3 1394.7h6.6M1171.3 1395.6h6.6M1171.1 1397.0h6.6M1174.4 1397.7h6.6M1148.2 1397.7h6.6M1151.3 1398.5h6.6M1171.4 1398.4h6.6M1180.8 1399.8h6.6M1157.9 1399.3h6.6M1168.7 1400.9h6.6M1148.4 1400.1h6.6M1158.7 1401.3h6.6M1155.7 1401.1h6.6M1163.1 1402.8h6.6M1168.7 1402.1h6.6M1150.5 1403.0h6.6M1171.3 1403.6h6.6M1161.3 1404.6h6.6M1147.7 1405.9h6.6M1151.9 1406.3h6.6M1161.0 1408.0h6.6M1155.2 1407.6h6.6M1163.4 1408.1h6.6M1156.6 1409.6h6.6M1162.7 1409.8h6.6M1182.2 1410.6h6.6M1168.3 1411.4h6.6M1162.2 1412.5h6.6M1156.5 1412.1h6.6M1156.9 1413.9h6.6M1154.5 1413.7h6.6M1168.7 1414.1h6.6M1176.8 1414.8h6.6M1151.6 1415.3h6.6M1157.9 1416.3h6.6M1172.5 1418.0h6.6M1164.8 1417.3h6.6M1180.8 1418.4h6.6M1161.3 1418.3h6.6M1170.0 1419.6h6.6M1173.6 1419.4h6.6M1161.3 1420.2h6.6M1172.6 1421.7h6.6M1177.6 1421.4h6.6M1167.9 1422.1h6.6M1179.9 1422.9h6.6M1163.0 1423.8h6.6M1171.9 1425.0h6.6M1162.3 1424.3h6.6M1162.1 1425.4h6.6M1162.3 1425.4h6.6M1158.8 1427.0h6.6M1159.8 1427.5h6.6M1152.6 1427.9h6.6M1165.0 1428.5h6.6M1152.1 1428.6h6.6M1170.4 1429.1h6.6M1180.9 1429.3h6.6M1151.8 1430.0h6.6M1176.0 1430.0h6.6M1146.5 1290.9h6.6M1151.3 1293.3h6.6M1155.3 1294.6h6.6M1144.8 1295.2h6.6M1153.4 1296.6h6.6M1168.9 1305.0h6.6M1185.5 1305.6h6.6M1164.2 1306.9h6.6M1180.9 1311.7h6.6M1183.9 1312.9h6.6M1158.2 1314.4h6.6M1166.5 1317.7h6.6M1191.3 1325.5h6.6M1159.1 1326.8h6.6M1145.3 1329.9h6.6M1161.9 1336.5h6.6M1180.1 1339.2h6.6M1160.6 1340.2h6.6M1143.4 1342.6h6.6M1139.3 1348.2h6.6M1168.0 1349.2h6.6M1150.4 1351.0h6.6M1178.4 1351.7h6.6M1157.5 1356.6h6.6M1142.3 1357.7h6.6M1189.7 1363.1h6.6M1148.8 1364.3h6.6M1177.5 1367.1h6.6M1141.6 1369.6h6.6M1160.5 1370.7h6.6M1136.2 1372.9h6.6M1170.8 1373.7h6.6M1175.5 1380.5h6.6M1172.3 1381.3h6.6M1163.0 1382.3h6.6M1145.8 1386.0h6.6M1151.3 1386.9h6.6M1171.3 1388.6h6.6M1135.8 1391.4h6.6M1191.4 1392.5h6.6M1134.1 1393.6h6.6M1180.5 1394.9h6.6M1188.2 1396.4h6.6M1156.5 1402.4h6.6M1154.6 1404.9h6.6M1172.1 1408.2h6.6M1151.4 1409.2h6.6M1167.4 1411.9h6.6M1157.6 1412.8h6.6M1171.4 1413.5h6.6M1144.4 1414.8h6.6M1161.6 1418.9h6.6M1131.4 1424.2h6.6M1133.2 1425.0h6.6M1136.7 1427.7h6.6M1179.5 1428.2h6.6M1168.3 1430.0h6.6M1235.2 237.0h6.6M1238.2 246.5h6.6M1235.2 255.8h6.6M1238.2 265.4h6.6M1235.2 275.2h6.6M1238.2 284.6h6.6M1235.2 294.1h6.6M1238.2 303.5h6.6M1235.2 312.9h6.6M1238.2 323.1h6.6M1235.2 332.7h6.6M1238.2 341.7h6.6M1235.2 365.0h6.6M1238.2 382.4h6.6M1235.2 399.0h6.6M1238.2 414.2h6.6M1235.2 430.3h6.6M1238.2 446.2h6.6M1235.2 461.7h6.6M1238.2 478.2h6.6M1235.2 494.1h6.6M1238.2 511.4h6.6M1235.2 528.9h6.6M1238.2 545.1h6.6M1235.2 562.3h6.6M1238.2 579.2h6.6M1235.2 596.3h6.6M1238.2 611.7h6.6M1235.2 629.2h6.6M1238.2 644.9h6.6M1235.2 661.1h6.6M1238.2 678.6h6.6M1235.2 695.9h6.6M1238.2 711.1h6.6M1235.2 728.3h6.6M1238.2 744.2h6.6M1235.2 761.7h6.6M1238.2 778.0h6.6M1224.2 800.0h6.6M1230.2 801.5h6.6M1236.2 803.0h6.6M1224.2 794.5h6.6M1231.7 786.5h6.6M1224.2 832.5h6.6M1230.2 834.0h6.6M1236.2 835.5h6.6M1224.2 827.0h6.6M1231.7 819.0h6.6M1231.7 813.0h6.6M1224.2 865.0h6.6M1230.2 866.5h6.6M1236.2 868.0h6.6M1242.2 866.5h6.6M1224.2 859.5h6.6M1231.7 851.5h6.6M1231.7 845.5h6.6M1224.2 897.5h6.6M1230.2 899.0h6.6M1236.2 900.5h6.6M1242.2 899.0h6.6M1224.2 892.0h6.6M1231.7 884.0h6.6M1231.7 878.0h6.6M1224.2 930.0h6.6M1230.2 931.5h6.6M1236.2 933.0h6.6M1242.2 931.5h6.6M1224.2 924.5h6.6M1231.7 916.5h6.6M1231.7 910.5h6.6M1224.2 962.5h6.6M1230.2 964.0h6.6M1236.2 965.5h6.6M1242.2 964.0h6.6M1224.2 957.0h6.6M1231.7 949.0h6.6M1231.7 943.0h6.6M1224.2 995.0h6.6M1230.2 996.5h6.6M1236.2 998.0h6.6M1242.2 996.5h6.6M1224.2 989.5h6.6M1231.7 981.5h6.6M1231.7 975.5h6.6M1224.2 1027.5h6.6M1230.2 1029.0h6.6M1236.2 1030.5h6.6M1242.2 1029.0h6.6M1224.2 1022.0h6.6M1231.7 1014.0h6.6M1231.7 1008.0h6.6M1224.2 1060.0h6.6M1230.2 1061.5h6.6M1236.2 1063.0h6.6M1242.2 1061.5h6.6M1224.2 1054.5h6.6M1231.7 1046.5h6.6M1231.7 1040.5h6.6M1224.2 1092.5h6.6M1230.2 1094.0h6.6M1236.2 1095.5h6.6M1242.2 1094.0h6.6M1224.2 1087.0h6.6M1231.7 1079.0h6.6M1231.7 1073.0h6.6M1224.2 1125.0h6.6M1230.2 1126.5h6.6M1236.2 1128.0h6.6M1242.2 1126.5h6.6M1224.2 1119.5h6.6M1231.7 1111.5h6.6M1231.7 1105.5h6.6M1224.2 1157.5h6.6M1230.2 1159.0h6.6M1236.2 1160.5h6.6M1242.2 1159.0h6.6M1224.2 1152.0h6.6M1231.7 1144.0h6.6M1231.7 1138.0h6.6M1224.2 1190.0h6.6M1230.2 1191.5h6.6M1236.2 1193.0h6.6M1242.2 1191.5h6.6M1224.2 1184.5h6.6M1231.7 1176.5h6.6M1231.7 1170.5h6.6M1247.2 865.0h6.6M1250.2 873.1h6.6M1247.2 881.2h6.6M1250.2 889.3h6.6M1247.2 897.4h6.6M1250.2 905.5h6.6M1247.2 913.6h6.6M1250.2 921.7h6.6M1247.2 929.8h6.6M1250.2 937.9h6.6M1247.2 946.0h6.6M1250.2 954.1h6.6M1247.2 962.2h6.6M1250.2 970.3h6.6M1247.2 978.4h6.6M1250.2 986.5h6.6M1247.2 994.6h6.6M1250.2 1002.7h6.6M1247.2 1010.8h6.6M1250.2 1018.9h6.6M1247.2 1027.0h6.6M1250.2 1035.1h6.6M1247.2 1043.2h6.6M1250.2 1051.3h6.6M1247.2 1059.4h6.6M1250.2 1067.5h6.6M1247.2 1075.6h6.6M1250.2 1083.7h6.6M1247.2 1091.8h6.6M1250.2 1099.9h6.6M1247.2 1108.0h6.6M1250.2 1116.1h6.6M1247.2 1124.2h6.6M1250.2 1132.3h6.6M1247.2 1140.4h6.6M1250.2 1148.5h6.6M1247.2 1156.6h6.6M1250.2 1164.7h6.6M1247.2 1172.8h6.6M1250.2 1180.9h6.6M1247.2 1189.0h6.6M1250.2 1197.1h6.6M1247.2 1205.2h6.6M1250.2 1213.3h6.6M1236.3 1023.6h6.6M1232.2 1036.6h6.6M1234.6 1050.8h6.6M1239.7 1052.3h6.6M1226.7 1054.9h6.6M1239.8 1061.4h6.6M1225.0 1063.4h6.6M1235.6 1064.1h6.6M1221.5 1065.7h6.6M1230.4 1074.4h6.6M1231.9 1083.4h6.6M1241.4 1086.5h6.6M1242.9 1088.9h6.6M1245.1 1089.6h6.6M1221.8 1099.5h6.6M1244.8 1105.7h6.6M1221.6 1108.2h6.6M1220.0 1110.2h6.6M1250.7 1121.9h6.6M1226.0 1125.9h6.6M1244.9 1128.2h6.6M1230.1 1129.0h6.6M1244.5 1137.1h6.6M1225.7 1150.3h6.6M1248.5 1151.1h6.6M1250.9 1152.6h6.6M1227.8 1156.0h6.6M1221.4 1158.6h6.6M1228.0 1160.0h6.6M1221.6 1161.7h6.6M1229.0 1184.4h6.6M1246.1 1186.7h6.6M1252.2 1194.1h6.6M1220.7 1204.3h6.6M1229.5 1211.3h6.6M1249.9 1212.7h6.6M1252.5 1216.4h6.6M1254.1 1217.5h6.6M1243.3 1218.6h6.6M1246.3 1219.1h6.6M1237.5 1221.8h6.6M1251.0 1223.6h6.6M1244.8 1224.5h6.6M1244.3 1225.3h6.6M1237.3 1226.4h6.6M1237.4 1227.3h6.6M1247.4 1228.2h6.6M1248.4 1229.9h6.6M1248.7 1230.8h6.6M1243.1 1231.8h6.6M1241.7 1232.9h6.6M1237.7 1233.3h6.6M1241.2 1234.9h6.6M1243.6 1235.8h6.6M1249.3 1237.5h6.6M1243.6 1238.9h6.6M1254.7 1240.7h6.6M1256.7 1241.9h6.6M1244.8 1242.1h6.6M1243.7 1244.3h6.6M1245.5 1245.6h6.6M1244.2 1246.6h6.6M1239.9 1247.9h6.6M1236.3 1248.8h6.6M1246.3 1249.2h6.6M1252.7 1250.3h6.6M1252.9 1253.6h6.6M1241.3 1255.8h6.6M1239.3 1256.5h6.6M1257.1 1257.3h6.6M1235.7 1258.9h6.6M1243.7 1259.1h6.6M1251.7 1260.4h6.6M1250.2 1261.3h6.6M1246.5 1262.2h6.6M1242.6 1263.8h6.6M1239.1 1264.7h6.6M1256.6 1265.6h6.6M1255.6 1266.4h6.6M1257.8 1267.7h6.6M1237.7 1268.9h6.6M1259.8 1269.3h6.6M1251.8 1270.9h6.6M1249.9 1271.0h6.6M1238.9 1272.4h6.6M1239.2 1273.4h6.6M1237.5 1275.0h6.6M1245.0 1275.1h6.6M1239.3 1276.7h6.6M1235.8 1277.6h6.6M1245.3 1278.9h6.6M1243.9 1279.4h6.6M1250.5 1280.9h6.6M1241.3 1281.7h6.6M1252.7 1283.0h6.6M1251.3 1283.3h6.6M1247.3 1284.4h6.6M1253.7 1285.1h6.6M1258.8 1286.7h6.6M1257.3 1287.9h6.6M1255.5 1288.8h6.6M1259.3 1289.9h6.6M1257.2 1289.2h6.6M1241.6 1290.1h6.6M1244.9 1291.8h6.6M1254.7 1292.8h6.6M1241.5 1293.5h6.6M1261.6 1294.5h6.6M1254.1 1295.3h6.6M1257.5 1296.5h6.6M1249.9 1297.7h6.6M1258.8 1298.1h6.6M1257.8 1299.8h6.6M1248.9 1300.2h6.6M1253.0 1301.7h6.6M1258.8 1302.5h6.6M1260.8 1302.3h6.6M1242.5 1303.2h6.6M1249.5 1304.6h6.6M1256.0 1305.6h6.6M1253.6 1306.8h6.6M1258.2 1307.1h6.6M1242.7 1308.0h6.6M1244.6 1309.0h6.6M1243.9 1310.8h6.6M1245.2 1311.1h6.6M1242.0 1312.1h6.6M1252.7 1313.5h6.6M1256.6 1314.2h6.6M1257.8 1315.6h6.6M1237.2 1315.4h6.6M1250.5 1316.2h6.6M1250.6 1318.0h6.6M1249.1 1318.1h6.6M1259.6 1319.1h6.6M1252.2 1320.0h6.6M1251.8 1321.3h6.6M1246.9 1322.8h6.6M1252.2 1323.5h6.6M1249.7 1324.8h6.6M1250.1 1325.1h6.6M1252.0 1326.1h6.6M1261.8 1327.3h6.6M1261.7 1327.1h6.6M1246.1 1329.0h6.6M1246.2 1328.8h6.6M1237.6 1329.7h6.6M1261.3 1330.6h6.6M1247.2 1331.6h6.6M1240.4 1331.7h6.6M1241.2 1332.7h6.6M1258.8 1333.2h6.6M1255.3 1334.1h6.6M1243.6 1335.2h6.6M1261.2 1336.9h6.6M1245.5 1337.7h6.6M1258.1 1338.7h6.6M1254.5 1339.4h6.6M1261.2 1340.1h6.6M1259.9 1341.4h6.6M1251.5 1342.4h6.6M1246.6 1343.2h6.6M1241.0 1344.1h6.6M1251.2 1345.5h6.6M1263.2 1346.4h6.6M1247.0 1347.7h6.6M1248.6 1348.4h6.6M1251.9 1349.9h6.6M1244.1 1350.9h6.6M1240.6 1350.0h6.6M1257.4 1351.2h6.6M1252.6 1352.7h6.6M1241.7 1353.9h6.6M1242.4 1354.9h6.6M1241.8 1355.4h6.6M1243.1 1356.5h6.6M1240.2 1357.1h6.6M1255.2 1358.2h6.6M1244.8 1359.1h6.6M1258.9 1360.7h6.6M1242.2 1361.1h6.6M1255.4 1361.1h6.6M1250.1 1362.9h6.6M1237.6 1363.2h6.6M1251.3 1364.2h6.6M1261.0 1365.0h6.6M1261.5 1366.6h6.6M1247.4 1366.4h6.6M1252.9 1367.0h6.6M1248.5 1368.0h6.6M1246.7 1369.7h6.6M1236.7 1370.7h6.6M1240.7 1371.4h6.6M1236.2 1372.8h6.6M1237.1 1373.8h6.6M1235.7 1374.2h6.6M1262.2 1375.6h6.6M1235.9 1376.7h6.6M1251.8 1377.3h6.6M1257.8 1377.5h6.6M1260.3 1378.8h6.6M1260.3 1379.5h6.6M1262.6 1379.6h6.6M1249.9 1380.0h6.6M1248.9 1381.2h6.6M1253.5 1382.7h6.6M1238.2 1383.9h6.6M1242.5 1383.9h6.6M1243.2 1384.6h6.6M1250.4 1385.6h6.6M1250.4 1386.3h6.6M1235.8 1387.1h6.6M1259.7 1388.6h6.6M1238.4 1388.1h6.6M1262.2 1389.8h6.6M1256.7 1390.1h6.6M1259.8 1390.0h6.6M1242.3 1391.4h6.6M1246.0 1392.7h6.6M1236.2 1393.8h6.6M1246.0 1393.8h6.6M1264.1 1394.4h6.6M1262.3 1394.0h6.6M1242.9 1395.5h6.6M1254.6 1396.7h6.6M1254.5 1397.9h6.6M1243.7 1398.5h6.6M1256.0 1399.9h6.6M1250.6 1400.9h6.6M1260.6 1401.3h6.6M1242.8 1402.5h6.6M1241.5 1403.9h6.6M1258.3 1404.6h6.6M1235.9 1405.4h6.6M1241.8 1405.2h6.6M1238.0 1406.0h6.6M1248.2 1407.3h6.6M1237.9 1408.8h6.6M1256.4 1409.8h6.6M1261.4 1410.4h6.6M1261.6 1411.2h6.6M1246.1 1411.7h6.6M1250.8 1412.8h6.6M1249.5 1413.7h6.6M1244.3 1414.9h6.6M1255.9 1414.5h6.6M1248.6 1416.0h6.6M1241.8 1416.9h6.6M1256.6 1417.8h6.6M1244.1 1418.2h6.6M1255.4 1419.8h6.6M1255.9 1420.6h6.6M1236.3 1421.6h6.6M1237.2 1422.0h6.6M1256.2 1422.6h6.6M1250.2 1423.7h6.6M1239.1 1424.8h6.6M1250.5 1425.4h6.6M1240.5 1426.2h6.6M1246.7 1427.7h6.6M1242.4 1428.5h6.6M1251.4 1430.0h6.6M1238.4 1429.7h6.6M1259.7 1430.0h6.6M1229.6 1221.2h6.6M1231.4 1222.5h6.6M1225.5 1234.0h6.6M1223.4 1236.8h6.6M1222.2 1237.0h6.6M1225.0 1252.5h6.6M1223.2 1253.9h6.6M1226.7 1266.3h6.6M1229.6 1272.1h6.6M1229.3 1277.0h6.6M1231.4 1278.6h6.6M1227.0 1283.2h6.6M1221.0 1288.3h6.6M1222.2 1294.4h6.6M1224.7 1297.9h6.6M1235.1 1300.0h6.6M1234.7 1307.4h6.6M1228.5 1308.6h6.6M1232.7 1309.3h6.6M1220.5 1317.5h6.6M1224.2 1318.9h6.6M1234.1 1324.1h6.6M1219.6 1328.0h6.6M1232.5 1328.4h6.6M1231.2 1341.4h6.6M1223.8 1346.9h6.6M1223.9 1347.6h6.6M1231.5 1351.3h6.6M1231.4 1352.7h6.6M1233.1 1355.8h6.6M1226.8 1361.6h6.6M1228.6 1363.1h6.6M1223.5 1365.0h6.6M1226.4 1367.9h6.6M1229.3 1371.4h6.6M1232.2 1373.5h6.6M1222.2 1374.5h6.6M1234.6 1375.6h6.6M1232.8 1394.8h6.6M1229.8 1396.4h6.6M1225.9 1404.8h6.6M1220.5 1405.9h6.6M1221.0 1408.4h6.6M1219.1 1411.0h6.6M1228.5 1420.5h6.6M1224.5 1421.2h6.6M1235.1 1423.9h6.6M1227.1 1425.3h6.6M1219.6 1428.0h6.6M1264.6 1261.5h6.6M1269.6 1266.2h6.6M1269.9 1274.2h6.6M1266.7 1296.3h6.6M1269.9 1320.3h6.6M1264.7 1326.9h6.6M1264.5 1343.1h6.6M1269.9 1348.0h6.6M1268.0 1353.8h6.6M1264.4 1357.2h6.6M1266.6 1384.8h6.6M1266.1 1402.0h6.6M1267.3 1402.7h6.6M1267.5 1427.3h6.6M1268.8 1429.0h6.6M1206.7 1281.7h6.6M1198.7 1291.2h6.6M1216.5 1324.5h6.6M1195.5 1369.8h6.6M1205.3 1375.4h6.6M1210.9 1380.0h6.6M1194.2 1385.3h6.6M1207.0 1387.0h6.6M1216.7 1391.5h6.6M1205.7 1392.0h6.6M1212.9 1396.9h6.6M1211.4 1420.1h6.6M1195.6 1421.1h6.6M1202.5 1424.8h6.6M1196.8 1430.0h6.6M1351.7 1070.0h6.6M1354.7 1093.6h6.6M1351.7 1114.9h6.6M1354.7 1137.1h6.6M1351.7 1159.9h6.6M1354.7 1183.7h6.6M1351.7 1205.2h6.6M1340.9 1220.5h6.6M1348.5 1221.1h6.6M1359.1 1223.0h6.6M1348.2 1223.8h6.6M1349.4 1225.9h6.6M1354.7 1226.6h6.6M1352.3 1227.4h6.6M1355.8 1230.1h6.6M1362.9 1231.9h6.6M1340.0 1233.7h6.6M1346.2 1235.9h6.6M1346.5 1236.3h6.6M1360.4 1237.1h6.6M1358.7 1238.9h6.6M1351.8 1240.6h6.6M1347.7 1241.9h6.6M1355.7 1242.6h6.6M1345.7 1243.8h6.6M1351.1 1244.3h6.6M1363.8 1245.6h6.6M1337.0 1246.4h6.6M1340.1 1247.4h6.6M1364.8 1248.6h6.6M1343.1 1249.6h6.6M1340.8 1251.2h6.6M1357.6 1252.6h6.6M1365.2 1253.8h6.6M1346.9 1254.3h6.6M1348.8 1255.1h6.6M1343.6 1256.2h6.6M1359.7 1257.2h6.6M1358.8 1258.8h6.6M1354.7 1259.4h6.6M1355.5 1260.3h6.6M1340.5 1261.4h6.6M1363.5 1262.5h6.6M1353.1 1263.7h6.6M1355.5 1264.7h6.6M1358.7 1265.5h6.6M1335.1 1266.0h6.6M1337.7 1266.3h6.6M1364.4 1267.4h6.6M1362.7 1268.8h6.6M1335.5 1269.8h6.6M1358.4 1270.1h6.6M1354.2 1271.2h6.6M1346.9 1272.4h6.6M1348.1 1273.9h6.6M1360.9 1274.8h6.6M1363.2 1275.7h6.6M1341.8 1276.1h6.6M1357.9 1277.0h6.6M1343.2 1278.6h6.6M1362.1 1279.8h6.6M1363.6 1280.6h6.6M1368.2 1281.9h6.6M1343.7 1282.3h6.6M1352.2 1283.9h6.6M1334.8 1284.1h6.6M1334.2 1284.8h6.6M1334.0 1285.7h6.6M1334.2 1286.4h6.6M1354.0 1287.0h6.6M1355.0 1287.5h6.6M1365.0 1287.9h6.6M1352.1 1288.9h6.6M1362.9 1288.8h6.6M1333.3 1289.6h6.6M1363.7 1289.2h6.6M1335.3 1290.4h6.6M1342.1 1291.9h6.6M1363.1 1292.6h6.6M1354.1 1292.5h6.6M1358.8 1293.9h6.6M1333.3 1293.6h6.6M1346.0 1294.7h6.6M1344.6 1295.5h6.6M1356.8 1296.7h6.6M1363.7 1297.1h6.6M1334.2 1298.5h6.6M1363.2 1299.5h6.6M1332.7 1300.5h6.6M1345.3 1301.6h6.6M1339.7 1302.2h6.6M1367.6 1302.0h6.6M1362.1 1303.4h6.6M1370.2 1304.0h6.6M1345.5 1304.2h6.6M1344.5 1305.6h6.6M1353.6 1306.8h6.6M1364.3 1307.8h6.6M1344.5 1307.1h6.6M1345.9 1308.4h6.6M1334.6 1308.3h6.6M1342.8 1309.4h6.6M1341.4 1311.0h6.6M1356.4 1311.4h6.6M1359.1 1311.2h6.6M1368.1 1312.3h6.6M1360.6 1312.7h6.6M1357.4 1313.3h6.6M1370.4 1315.0h6.6M1351.2 1315.0h6.6M1358.2 1315.4h6.6M1335.4 1316.0h6.6M1334.1 1317.4h6.6M1348.8 1318.3h6.6M1363.7 1319.1h6.6M1368.3 1320.5h6.6M1344.7 1320.7h6.6M1356.6 1321.2h6.6M1353.5 1321.7h6.6M1357.7 1322.5h6.6M1337.4 1323.6h6.6M1358.4 1323.1h6.6M1370.1 1324.7h6.6M1362.2 1324.5h6.6M1367.7 1325.5h6.6M1365.3 1326.6h6.6M1356.5 1326.4h6.6M1364.1 1328.0h6.6M1367.6 1327.8h6.6M1372.4 1328.2h6.6M1365.7 1329.0h6.6M1344.9 1329.4h6.6M1354.4 1329.6h6.6M1352.9 1330.9h6.6M1363.0 1330.7h6.6M1369.1 1331.9h6.6M1331.7 1332.7h6.6M1333.2 1333.9h6.6M1368.7 1334.9h6.6M1371.6 1334.4h6.6M1334.1 1335.2h6.6M1369.4 1335.2h6.6M1354.3 1336.5h6.6M1370.3 1336.8h6.6M1364.1 1338.0h6.6M1353.0 1337.3h6.6M1351.1 1338.5h6.6M1369.3 1338.9h6.6M1362.9 1339.0h6.6M1332.8 1339.9h6.6M1371.1 1340.6h6.6M1373.0 1340.1h6.6M1370.7 1341.5h6.6M1346.5 1341.5h6.6M1351.4 1342.2h6.6M1369.0 1343.1h6.6M1342.7 1343.8h6.6M1362.2 1344.4h6.6M1348.1 1344.6h6.6M1332.7 1345.9h6.6M1333.1 1345.7h6.6M1372.3 1346.8h6.6M1346.9 1346.1h6.6M1372.8 1347.5h6.6M1340.5 1348.2h6.6M1370.3 1348.9h6.6M1332.9 1349.9h6.6M1342.4 1350.4h6.6M1345.4 1352.0h6.6M1349.7 1351.6h6.6M1348.2 1352.5h6.6M1352.2 1353.1h6.6M1338.0 1354.5h6.6M1356.3 1354.5h6.6M1346.2 1355.4h6.6M1359.6 1355.3h6.6M1361.9 1356.9h6.6M1340.2 1357.3h6.6M1330.0 1357.6h6.6M1363.3 1359.0h6.6M1346.2 1358.3h6.6M1365.3 1359.6h6.6M1338.4 1359.5h6.6M1362.9 1360.6h6.6M1350.1 1360.2h6.6M1348.1 1361.5h6.6M1372.8 1361.6h6.6M1341.7 1362.1h6.6M1340.3 1362.9h6.6M1348.6 1363.4h6.6M1343.4 1363.3h6.6M1341.6 1364.9h6.6M1364.2 1364.9h6.6M1370.9 1365.1h6.6M1341.0 1365.3h6.6M1372.8 1366.8h6.6M1354.0 1367.8h6.6M1347.1 1367.1h6.6M1347.1 1368.0h6.6M1363.5 1368.5h6.6M1341.8 1369.9h6.6M1343.5 1369.4h6.6M1340.8 1370.7h6.6M1355.6 1370.3h6.6M1371.2 1371.5h6.6M1369.7 1372.5h6.6M1360.4 1374.0h6.6M1332.8 1373.3h6.6M1341.4 1374.0h6.6M1354.8 1374.9h6.6M1371.7 1375.2h6.6M1364.3 1376.9h6.6M1362.6 1378.0h6.6M1349.2 1377.7h6.6M1370.2 1378.4h6.6M1351.5 1378.2h6.6M1351.4 1379.8h6.6M1340.3 1379.3h6.6M1345.7 1380.8h6.6M1349.1 1381.0h6.6M1341.8 1381.7h6.6M1371.7 1381.9h6.6M1362.5 1382.5h6.6M1342.5 1383.0h6.6M1341.3 1383.9h6.6M1340.5 1383.9h6.6M1338.2 1384.1h6.6M1331.7 1385.9h6.6M1332.2 1385.1h6.6M1354.4 1386.0h6.6M1334.6 1387.2h6.6M1368.3 1387.5h6.6M1369.3 1388.6h6.6M1371.6 1388.5h6.6M1336.7 1389.0h6.6M1333.2 1390.4h6.6M1357.5 1391.4h6.6M1354.4 1391.5h6.6M1333.3 1392.6h6.6M1367.1 1393.6h6.6M1361.3 1393.9h6.6M1337.1 1394.6h6.6M1336.8 1394.2h6.6M1374.2 1395.9h6.6M1333.7 1395.2h6.6M1339.2 1396.7h6.6M1329.9 1397.8h6.6M1347.4 1398.5h6.6M1333.1 1398.1h6.6M1331.2 1399.5h6.6M1344.6 1400.0h6.6M1365.8 1400.3h6.6M1354.3 1400.2h6.6M1372.8 1402.0h6.6M1371.7 1401.3h6.6M1370.4 1402.4h6.6M1334.1 1403.1h6.6M1355.1 1404.5h6.6M1354.2 1405.5h6.6M1369.2 1405.5h6.6M1364.9 1406.8h6.6M1360.1 1406.5h6.6M1371.0 1407.2h6.6M1344.9 1408.1h6.6M1373.3 1408.9h6.6M1362.1 1409.1h6.6M1370.3 1409.9h6.6M1371.9 1410.2h6.6M1357.4 1411.0h6.6M1369.5 1411.2h6.6M1360.3 1411.9h6.6M1373.8 1412.7h6.6M1334.3 1413.3h6.6M1330.1 1413.5h6.6M1337.3 1414.1h6.6M1370.1 1414.4h6.6M1339.9 1415.6h6.6M1358.5 1415.7h6.6M1332.6 1416.2h6.6M1345.5 1417.8h6.6M1331.4 1417.5h6.6M1350.2 1419.0h6.6M1340.7 1418.9h6.6M1363.0 1419.2h6.6M1366.7 1420.0h6.6M1354.3 1420.2h6.6M1370.1 1421.9h6.6M1340.4 1421.6h6.6M1338.5 1422.1h6.6M1358.6 1422.2h6.6M1344.8 1423.9h6.6M1368.5 1423.5h6.6M1344.4 1424.5h6.6M1342.0 1425.4h6.6M1347.1 1425.3h6.6M1350.2 1426.2h6.6M1353.9 1426.3h6.6M1354.9 1427.7h6.6M1358.6 1427.0h6.6M1363.1 1428.2h6.6M1342.5 1428.4h6.6M1369.6 1429.4h6.6M1343.7 1429.9h6.6M1368.5 1430.0h6.6M1346.2 1430.0h6.6M1382.8 1344.5h6.6M1381.2 1351.4h6.6M1383.2 1360.9h6.6M1381.6 1384.8h6.6M1381.8 1404.9h6.6M1380.9 1416.0h6.6M1382.7 1419.7h6.6M1420.7 552.0h6.6M1423.7 562.2h6.6M1420.7 571.3h6.6M1420.7 590.0h6.6M1423.7 605.7h6.6M1420.7 622.9h6.6M1423.7 639.4h6.6M1420.7 654.5h6.6M1423.7 671.1h6.6M1420.7 688.5h6.6M1423.7 703.6h6.6M1420.7 720.9h6.6M1423.7 736.1h6.6M1420.7 753.6h6.6M1423.7 770.7h6.6M1420.7 787.2h6.6M1418.2 816.0h6.6M1424.2 817.5h6.6M1430.2 819.0h6.6M1418.2 810.5h6.6M1425.7 802.5h6.6M1418.2 848.5h6.6M1424.2 850.0h6.6M1430.2 851.5h6.6M1418.2 843.0h6.6M1425.7 835.0h6.6M1425.7 829.0h6.6M1418.2 881.0h6.6M1424.2 882.5h6.6M1430.2 884.0h6.6M1418.2 875.5h6.6M1425.7 867.5h6.6M1425.7 861.5h6.6M1418.2 913.5h6.6M1424.2 915.0h6.6M1430.2 916.5h6.6M1418.2 908.0h6.6M1425.7 900.0h6.6M1425.7 894.0h6.6M1418.2 946.0h6.6M1424.2 947.5h6.6M1430.2 949.0h6.6M1418.2 940.5h6.6M1425.7 932.5h6.6M1425.7 926.5h6.6M1418.2 978.5h6.6M1424.2 980.0h6.6M1430.2 981.5h6.6M1418.2 973.0h6.6M1425.7 965.0h6.6M1425.7 959.0h6.6M1418.2 1011.0h6.6M1424.2 1012.5h6.6M1430.2 1014.0h6.6M1418.2 1005.5h6.6M1425.7 997.5h6.6M1425.7 991.5h6.6M1418.2 1043.5h6.6M1424.2 1045.0h6.6M1430.2 1046.5h6.6M1418.2 1038.0h6.6M1425.7 1030.0h6.6M1425.7 1024.0h6.6M1418.2 1076.0h6.6M1424.2 1077.5h6.6M1430.2 1079.0h6.6M1418.2 1070.5h6.6M1425.7 1062.5h6.6M1425.7 1056.5h6.6M1418.2 1108.5h6.6M1424.2 1110.0h6.6M1430.2 1111.5h6.6M1418.2 1103.0h6.6M1425.7 1095.0h6.6M1425.7 1089.0h6.6M1418.2 1141.0h6.6M1424.2 1142.5h6.6M1430.2 1144.0h6.6M1418.2 1135.5h6.6M1425.7 1127.5h6.6M1425.7 1121.5h6.6M1418.2 1173.5h6.6M1424.2 1175.0h6.6M1430.2 1176.5h6.6M1418.2 1168.0h6.6M1425.7 1160.0h6.6M1425.7 1154.0h6.6M1418.2 1206.0h6.6M1424.2 1207.5h6.6M1430.2 1209.0h6.6M1418.2 1200.5h6.6M1425.7 1192.5h6.6M1425.7 1186.5h6.6M1434.7 850.0h6.6M1437.7 858.1h6.6M1434.7 866.2h6.6M1437.7 874.3h6.6M1434.7 882.4h6.6M1437.7 890.5h6.6M1434.7 898.6h6.6M1437.7 906.7h6.6M1434.7 914.8h6.6M1437.7 922.9h6.6M1434.7 931.0h6.6M1437.7 939.1h6.6M1434.7 947.2h6.6M1437.7 955.3h6.6M1434.7 963.4h6.6M1437.7 971.5h6.6M1434.7 979.6h6.6M1437.7 987.7h6.6M1434.7 995.8h6.6M1437.7 1003.9h6.6M1434.7 1012.0h6.6M1437.7 1020.1h6.6M1434.7 1028.2h6.6M1437.7 1036.3h6.6M1434.7 1044.4h6.6M1437.7 1052.5h6.6M1434.7 1060.6h6.6M1437.7 1068.7h6.6M1434.7 1076.8h6.6M1437.7 1084.9h6.6M1434.7 1093.0h6.6M1437.7 1101.1h6.6M1434.7 1109.2h6.6M1437.7 1117.3h6.6M1434.7 1125.4h6.6M1437.7 1133.5h6.6M1434.7 1141.6h6.6M1437.7 1149.7h6.6M1434.7 1157.8h6.6M1437.7 1165.9h6.6M1434.7 1174.0h6.6M1437.7 1182.1h6.6M1434.7 1190.2h6.6M1437.7 1198.3h6.6M1434.7 1206.4h6.6M1437.7 1214.5h6.6M1416.7 870.0h6.6M1419.7 880.8h6.6M1416.7 891.6h6.6M1419.7 902.4h6.6M1416.7 913.2h6.6M1419.7 924.0h6.6M1416.7 934.8h6.6M1419.7 945.6h6.6M1416.7 956.4h6.6M1419.7 967.2h6.6M1416.7 978.0h6.6M1419.7 988.8h6.6M1416.7 999.6h6.6M1419.7 1010.4h6.6M1416.7 1021.2h6.6M1419.7 1032.0h6.6M1416.7 1042.8h6.6M1419.7 1053.6h6.6M1416.7 1064.4h6.6M1419.7 1075.2h6.6M1416.7 1086.0h6.6M1419.7 1096.8h6.6M1416.7 1107.6h6.6M1419.7 1118.4h6.6M1416.7 1129.2h6.6M1419.7 1140.0h6.6M1416.7 1150.8h6.6M1419.7 1161.6h6.6M1416.7 1172.4h6.6M1419.7 1183.2h6.6M1416.7 1194.0h6.6M1419.7 1204.8h6.6M1415.5 986.1h6.6M1411.2 990.4h6.6M1408.9 1006.1h6.6M1415.4 1015.4h6.6M1412.1 1026.9h6.6M1409.6 1031.0h6.6M1407.7 1051.9h6.6M1414.4 1053.7h6.6M1413.5 1065.4h6.6M1404.3 1083.5h6.6M1403.9 1085.2h6.6M1413.6 1087.8h6.6M1412.5 1089.0h6.6M1413.9 1102.8h6.6M1405.5 1104.0h6.6M1407.1 1118.3h6.6M1414.8 1120.2h6.6M1406.0 1121.5h6.6M1406.4 1125.4h6.6M1410.1 1126.4h6.6M1415.2 1127.4h6.6M1406.0 1133.0h6.6M1409.6 1135.6h6.6M1415.2 1138.9h6.6M1410.8 1142.8h6.6M1407.8 1143.7h6.6M1407.3 1160.0h6.6M1402.7 1169.2h6.6M1402.7 1172.5h6.6M1413.1 1174.4h6.6M1412.4 1177.9h6.6M1406.2 1190.2h6.6M1404.7 1194.7h6.6M1410.0 1213.0h6.6M1423.5 1093.5h6.6M1435.1 1102.1h6.6M1426.0 1112.2h6.6M1427.6 1133.6h6.6M1442.0 1142.4h6.6M1428.3 1149.7h6.6M1429.6 1151.6h6.6M1437.8 1156.3h6.6M1429.5 1161.6h6.6M1421.7 1164.0h6.6M1430.1 1172.6h6.6M1428.1 1176.0h6.6M1444.4 1178.2h6.6M1422.3 1179.4h6.6M1441.7 1192.9h6.6M1420.2 1197.7h6.6M1430.9 1201.6h6.6M1447.6 1204.7h6.6M1443.7 1207.1h6.6M1422.0 1211.9h6.6M1420.9 1212.4h6.6M1443.5 1213.4h6.6M1427.1 1214.3h6.6M1420.0 1215.2h6.6M1432.1 1216.6h6.6M1444.5 1218.0h6.6M1437.5 1218.6h6.6M1447.4 1219.9h6.6M1424.0 1221.2h6.6M1414.8 1222.0h6.6M1445.3 1223.2h6.6M1407.3 1224.0h6.6M1434.2 1225.9h6.6M1410.1 1226.2h6.6M1425.1 1227.2h6.6M1430.8 1228.4h6.6M1409.9 1229.5h6.6M1434.3 1230.6h6.6M1437.5 1231.2h6.6M1419.2 1232.9h6.6M1449.4 1233.5h6.6M1444.0 1234.6h6.6M1446.8 1235.9h6.6M1414.7 1236.2h6.6M1408.6 1237.2h6.6M1415.8 1238.8h6.6M1407.1 1239.7h6.6M1440.0 1240.9h6.6M1401.7 1241.3h6.6M1434.6 1242.1h6.6M1404.2 1243.4h6.6M1431.3 1244.3h6.6M1409.5 1245.1h6.6M1434.9 1245.9h6.6M1421.6 1246.6h6.6M1419.6 1247.4h6.6M1412.4 1248.2h6.6M1431.0 1249.1h6.6M1403.0 1250.0h6.6M1412.0 1251.1h6.6M1425.6 1252.7h6.6M1412.8 1253.5h6.6M1407.1 1254.8h6.6M1418.2 1255.3h6.6M1440.5 1256.1h6.6M1446.2 1257.9h6.6M1439.4 1258.8h6.6M1418.6 1259.6h6.6M1425.8 1260.5h6.6M1433.3 1261.2h6.6M1416.5 1262.9h6.6M1403.4 1263.7h6.6M1402.7 1264.5h6.6M1433.9 1265.2h6.6M1401.8 1266.7h6.6M1415.4 1268.0h6.6M1405.5 1268.0h6.6M1443.4 1269.8h6.6M1433.4 1270.7h6.6M1415.6 1271.2h6.6M1417.5 1272.9h6.6M1426.2 1273.9h6.6M1434.6 1274.2h6.6M1408.0 1275.6h6.6M1444.3 1276.5h6.6M1407.4 1277.3h6.6M1445.2 1278.0h6.6M1450.7 1279.5h6.6M1405.3 1280.8h6.6M1440.8 1280.8h6.6M1435.8 1281.8h6.6M1417.6 1282.6h6.6M1414.3 1283.2h6.6M1404.9 1283.2h6.6M1434.1 1284.9h6.6M1403.7 1285.0h6.6M1413.0 1285.3h6.6M1408.6 1286.2h6.6M1422.4 1287.8h6.6M1405.6 1288.7h6.6M1447.7 1289.5h6.6M1415.8 1290.1h6.6M1448.1 1291.1h6.6M1429.6 1292.0h6.6M1417.0 1293.1h6.6M1406.4 1294.2h6.6M1423.2 1295.2h6.6M1416.1 1295.3h6.6M1439.2 1296.7h6.6M1406.6 1297.6h6.6M1445.8 1298.9h6.6M1429.3 1299.1h6.6M1407.8 1299.7h6.6M1410.2 1301.0h6.6M1416.7 1300.4h6.6M1441.8 1301.2h6.6M1420.4 1302.6h6.6M1433.6 1303.0h6.6M1428.7 1304.7h6.6M1448.1 1305.8h6.6M1449.1 1306.3h6.6M1444.9 1306.4h6.6M1428.1 1307.8h6.6M1409.3 1307.9h6.6M1411.5 1308.8h6.6M1447.0 1309.8h6.6M1417.4 1309.1h6.6M1416.4 1310.4h6.6M1439.2 1311.2h6.6M1450.1 1311.5h6.6M1419.6 1312.5h6.6M1416.1 1313.9h6.6M1418.8 1315.0h6.6M1450.2 1314.9h6.6M1405.0 1315.9h6.6M1451.3 1316.1h6.6M1429.0 1317.6h6.6M1421.5 1318.5h6.6M1441.8 1318.9h6.6M1404.0 1319.3h6.6M1441.1 1319.8h6.6M1448.1 1320.3h6.6M1436.4 1321.7h6.6M1417.1 1321.7h6.6M1414.0 1322.7h6.6M1412.7 1323.9h6.6M1425.1 1324.6h6.6M1418.8 1325.4h6.6M1436.1 1326.7h6.6M1401.2 1327.2h6.6M1445.1 1327.4h6.6M1402.1 1328.3h6.6M1450.7 1329.6h6.6M1410.3 1330.1h6.6M1436.7 1331.3h6.6M1453.1 1332.5h6.6M1412.2 1332.1h6.6M1441.8 1334.0h6.6M1448.3 1333.1h6.6M1445.1 1334.0h6.6M1405.2 1335.9h6.6M1428.2 1336.9h6.6M1406.6 1337.8h6.6M1406.6 1337.4h6.6M1438.3 1338.8h6.6M1426.7 1338.5h6.6M1412.1 1339.8h6.6M1431.8 1340.9h6.6M1437.6 1341.0h6.6M1448.6 1342.3h6.6M1422.0 1343.1h6.6M1406.7 1343.7h6.6M1429.1 1345.0h6.6M1439.7 1344.7h6.6M1446.2 1345.8h6.6M1404.5 1345.6h6.6M1404.1 1346.0h6.6M1412.9 1347.5h6.6M1430.2 1349.0h6.6M1402.4 1348.5h6.6M1447.3 1349.3h6.6M1430.1 1350.3h6.6M1447.6 1351.9h6.6M1415.7 1353.0h6.6M1452.7 1353.6h6.6M1408.7 1353.3h6.6M1436.9 1354.9h6.6M1433.5 1355.1h6.6M1446.0 1356.9h6.6M1425.3 1357.9h6.6M1426.1 1357.7h6.6M1422.4 1359.0h6.6M1448.6 1358.9h6.6M1402.6 1359.8h6.6M1422.4 1360.7h6.6M1448.2 1361.2h6.6M1421.7 1362.8h6.6M1414.2 1362.4h6.6M1428.6 1364.0h6.6M1404.4 1363.4h6.6M1453.4 1364.1h6.6M1445.2 1365.6h6.6M1414.6 1365.1h6.6M1417.8 1366.6h6.6M1439.8 1367.9h6.6M1427.1 1367.9h6.6M1437.8 1368.7h6.6M1443.5 1370.0h6.6M1411.1 1370.2h6.6M1406.5 1371.2h6.6M1418.2 1372.5h6.6M1415.8 1374.0h6.6M1409.5 1373.1h6.6M1406.7 1374.3h6.6M1415.4 1375.2h6.6M1446.3 1375.7h6.6M1408.5 1376.4h6.6M1408.6 1376.6h6.6M1428.9 1377.1h6.6M1412.8 1378.4h6.6M1413.8 1378.7h6.6M1417.4 1379.3h6.6M1416.0 1380.4h6.6M1446.1 1381.0h6.6M1442.2 1381.8h6.6M1448.3 1381.9h6.6M1434.7 1382.3h6.6M1405.2 1382.9h6.6M1403.6 1383.9h6.6M1452.8 1384.5h6.6M1443.1 1385.5h6.6M1408.3 1385.3h6.6M1401.4 1387.0h6.6M1422.1 1387.9h6.6M1409.8 1387.4h6.6M1426.5 1388.3h6.6M1425.5 1389.3h6.6M1419.8 1390.7h6.6M1423.9 1391.1h6.6M1415.2 1393.0h6.6M1424.7 1392.2h6.6M1407.9 1393.3h6.6M1400.1 1394.4h6.6M1432.1 1394.8h6.6M1419.9 1395.9h6.6M1433.9 1395.3h6.6M1449.2 1396.9h6.6M1406.9 1397.2h6.6M1440.8 1397.9h6.6M1401.9 1398.8h6.6M1449.3 1398.5h6.6M1436.0 1399.6h6.6M1406.6 1399.7h6.6M1443.5 1400.4h6.6M1442.9 1400.8h6.6M1452.9 1401.7h6.6M1412.5 1401.3h6.6M1415.2 1402.5h6.6M1452.3 1403.3h6.6M1435.3 1403.3h6.6M1440.2 1404.2h6.6M1427.1 1404.3h6.6M1410.9 1405.9h6.6M1403.6 1406.4h6.6M1399.9 1406.4h6.6M1404.4 1407.5h6.6M1421.2 1408.9h6.6M1414.0 1408.9h6.6M1400.9 1409.8h6.6M1413.3 1410.2h6.6M1439.5 1410.7h6.6M1440.3 1411.4h6.6M1402.1 1412.6h6.6M1418.3 1412.6h6.6M1431.5 1413.1h6.6M1441.4 1413.9h6.6M1399.9 1414.1h6.6M1405.8 1415.4h6.6M1435.7 1415.3h6.6M1453.1 1416.8h6.6M1429.6 1417.5h6.6M1424.4 1417.4h6.6M1412.1 1418.7h6.6M1447.6 1419.5h6.6M1401.8 1419.1h6.6M1449.5 1421.0h6.6M1407.7 1420.5h6.6M1401.1 1421.2h6.6M1433.5 1422.0h6.6M1415.5 1422.7h6.6M1429.2 1423.2h6.6M1437.4 1423.9h6.6M1421.8 1424.2h6.6M1403.2 1425.2h6.6M1435.0 1425.3h6.6M1413.2 1426.3h6.6M1445.5 1426.2h6.6M1438.2 1427.0h6.6M1405.7 1428.2h6.6M1450.5 1428.3h6.6M1424.3 1429.6h6.6M1408.4 1429.2h6.6M1415.6 1430.0h6.6M1402.0 1430.0h6.6M1539.5 960.0h6.6M1542.5 974.8h6.6M1539.5 989.8h6.6M1542.5 1005.0h6.6M1539.5 1020.4h6.6M1542.5 1034.1h6.6M1539.5 1048.7h6.6M1542.5 1064.3h6.6M1539.5 1078.8h6.6M1542.5 1094.1h6.6M1539.5 1109.2h6.6M1542.5 1122.8h6.6M1539.5 1138.0h6.6M1542.5 1152.8h6.6M1539.5 1167.2h6.6M1542.5 1181.0h6.6M1539.5 1195.7h6.6M1542.5 1210.8h6.6M1539.5 1224.6h6.6M1542.5 1239.3h6.6M1539.5 1254.9h6.6M1542.5 1270.5h6.6M1539.5 1285.0h6.6M1542.5 1298.5h6.6M1539.5 1311.9h6.6M1542.5 1326.0h6.6M1539.5 1340.1h6.6M1542.5 1353.6h6.6M1539.5 1368.2h6.6M1542.5 1382.0h6.6M1539.5 1395.9h6.6M1542.5 1410.8h6.6M1539.5 1424.6h6.6M1515.6 1302.5h6.6M1515.1 1310.0h6.6M1528.9 1311.3h6.6M1521.0 1312.2h6.6M1536.6 1317.2h6.6M1509.8 1319.4h6.6M1513.7 1320.0h6.6M1529.7 1322.0h6.6M1529.7 1323.4h6.6M1524.8 1324.1h6.6M1541.0 1326.2h6.6M1532.7 1327.8h6.6M1540.7 1329.7h6.6M1538.7 1330.3h6.6M1503.4 1331.4h6.6M1506.1 1332.7h6.6M1528.9 1333.9h6.6M1534.9 1336.2h6.6M1537.2 1339.6h6.6M1502.8 1340.7h6.6M1523.3 1341.6h6.6M1531.7 1342.2h6.6M1548.4 1343.8h6.6M1504.7 1344.0h6.6M1513.7 1345.4h6.6M1528.3 1346.8h6.6M1522.7 1348.0h6.6M1507.5 1348.8h6.6M1551.1 1349.4h6.6M1513.5 1350.2h6.6M1526.2 1351.9h6.6M1549.8 1353.1h6.6M1505.5 1354.4h6.6M1535.0 1355.2h6.6M1551.8 1356.6h6.6M1511.9 1357.7h6.6M1499.8 1358.7h6.6M1501.4 1359.2h6.6M1515.5 1360.8h6.6M1514.9 1361.3h6.6M1515.4 1362.8h6.6M1532.0 1363.1h6.6M1528.8 1364.4h6.6M1525.4 1365.4h6.6M1534.5 1366.2h6.6M1520.4 1367.9h6.6M1538.9 1368.2h6.6M1541.6 1369.7h6.6M1541.8 1370.1h6.6M1507.0 1371.6h6.6M1551.7 1372.2h6.6M1500.5 1373.7h6.6M1548.9 1374.2h6.6M1550.4 1375.5h6.6M1504.6 1376.2h6.6M1511.4 1377.8h6.6M1550.5 1378.3h6.6M1500.5 1379.2h6.6M1549.6 1380.4h6.6M1511.9 1381.9h6.6M1553.4 1382.4h6.6M1537.1 1384.0h6.6M1537.3 1384.5h6.6M1535.4 1385.9h6.6M1513.2 1386.7h6.6M1553.2 1387.3h6.6M1509.9 1388.7h6.6M1556.6 1389.3h6.6M1506.9 1390.1h6.6M1525.5 1391.3h6.6M1496.9 1392.1h6.6M1527.0 1393.0h6.6M1545.4 1393.1h6.6M1526.2 1394.9h6.6M1543.4 1395.7h6.6M1521.7 1396.2h6.6M1536.5 1397.0h6.6M1551.7 1398.3h6.6M1523.2 1399.0h6.6M1555.3 1400.0h6.6M1504.0 1399.0h6.6M1512.7 1400.7h6.6M1515.8 1401.1h6.6M1495.6 1402.6h6.6M1522.6 1403.9h6.6M1502.2 1403.8h6.6M1546.2 1404.5h6.6M1515.7 1404.9h6.6M1536.2 1405.7h6.6M1496.7 1406.4h6.6M1511.5 1406.4h6.6M1527.3 1407.5h6.6M1548.3 1407.4h6.6M1518.9 1408.3h6.6M1534.6 1409.7h6.6M1514.6 1410.0h6.6M1503.3 1410.2h6.6M1519.8 1411.0h6.6M1544.0 1412.5h6.6M1520.9 1412.4h6.6M1537.0 1413.5h6.6M1496.5 1414.9h6.6M1523.0 1415.9h6.6M1496.3 1416.0h6.6M1507.7 1417.6h6.6M1516.0 1418.2h6.6M1554.7 1418.1h6.6M1507.7 1419.5h6.6M1540.0 1421.0h6.6M1551.2 1421.8h6.6M1524.6 1422.7h6.6M1534.1 1422.7h6.6M1555.3 1423.1h6.6M1555.8 1423.1h6.6M1522.2 1424.7h6.6M1499.5 1425.7h6.6M1518.4 1426.9h6.6M1506.4 1426.8h6.6M1542.3 1427.1h6.6M1497.6 1428.3h6.6M1517.8 1429.9h6.6M1553.8 1430.0h6.6M1552.6 1430.0h6.6M1611.5 993.0h6.6M1614.5 1008.6h6.6M1611.5 1022.9h6.6M1614.5 1039.2h6.6M1611.5 1054.1h6.6M1614.5 1070.3h6.6M1611.5 1084.9h6.6M1611.5 1100.0h6.6M1614.5 1111.6h6.6M1611.5 1121.8h6.6M1614.5 1133.5h6.6M1611.5 1144.1h6.6M1614.5 1155.0h6.6M1611.5 1165.4h6.6M1614.5 1176.8h6.6M1611.5 1188.0h6.6M1614.5 1199.4h6.6M1611.5 1210.9h6.6M1614.5 1221.8h6.6M1611.5 1232.7h6.6M1614.5 1243.8h6.6M1624.2 1150.0h6.6M1627.2 1167.1h6.6M1624.2 1185.0h6.6M1627.2 1203.0h6.6M1624.2 1220.0h6.6M1627.2 1236.7h6.6M1620.8 1240.3h6.6M1621.6 1241.2h6.6M1617.0 1242.4h6.6M1613.6 1243.8h6.6M1611.4 1244.5h6.6M1624.8 1246.5h6.6M1614.0 1250.5h6.6M1620.3 1253.7h6.6M1607.7 1254.8h6.6M1623.0 1256.3h6.6M1606.6 1260.9h6.6M1622.5 1262.0h6.6M1616.1 1262.7h6.6M1621.7 1264.0h6.6M1620.5 1265.2h6.6M1630.7 1268.1h6.6M1627.5 1269.1h6.6M1632.4 1272.6h6.6M1622.3 1273.2h6.6M1624.4 1275.6h6.6M1622.3 1276.7h6.6M1625.3 1277.5h6.6M1621.3 1280.8h6.6M1633.8 1283.4h6.6M1616.6 1284.9h6.6M1625.4 1285.8h6.6M1615.8 1286.2h6.6M1618.3 1287.4h6.6M1618.1 1288.5h6.6M1615.9 1289.0h6.6M1614.1 1290.8h6.6M1622.7 1291.9h6.6M1612.5 1292.3h6.6M1612.4 1294.7h6.6M1631.5 1295.5h6.6M1635.0 1296.8h6.6M1611.8 1297.8h6.6M1598.8 1298.1h6.6M1623.8 1299.8h6.6M1621.3 1301.0h6.6M1613.2 1301.2h6.6M1615.2 1302.9h6.6M1620.8 1303.6h6.6M1617.4 1304.1h6.6M1617.7 1305.3h6.6M1624.8 1306.7h6.6M1615.8 1307.5h6.6M1617.6 1308.1h6.6M1615.6 1309.5h6.6M1609.4 1310.5h6.6M1632.9 1311.4h6.6M1625.4 1312.8h6.6M1607.7 1313.3h6.6M1631.7 1314.8h6.6M1628.6 1315.6h6.6M1613.4 1316.5h6.6M1611.9 1316.9h6.6M1616.1 1317.6h6.6M1616.2 1317.2h6.6M1626.2 1319.0h6.6M1624.5 1319.8h6.6M1617.1 1320.5h6.6M1601.4 1321.7h6.6M1620.4 1322.9h6.6M1602.4 1323.8h6.6M1607.9 1324.5h6.6M1604.0 1326.0h6.6M1616.7 1326.9h6.6M1624.6 1327.7h6.6M1600.8 1328.8h6.6M1602.5 1329.8h6.6M1624.4 1331.0h6.6M1628.9 1331.5h6.6M1617.6 1332.2h6.6M1604.9 1333.5h6.6M1606.8 1335.0h6.6M1611.8 1334.7h6.6M1627.9 1335.6h6.6M1611.6 1335.6h6.6M1622.0 1336.5h6.6M1626.7 1337.7h6.6M1606.9 1338.8h6.6M1637.1 1339.8h6.6M1627.0 1340.6h6.6M1625.6 1340.4h6.6M1603.7 1341.6h6.6M1633.0 1342.6h6.6M1608.6 1342.7h6.6M1618.1 1343.4h6.6M1632.2 1343.8h6.6M1617.5 1344.7h6.6M1614.3 1345.6h6.6M1631.1 1346.3h6.6M1604.5 1346.2h6.6M1618.5 1347.6h6.6M1617.3 1347.5h6.6M1618.8 1348.9h6.6M1604.3 1348.5h6.6M1619.4 1349.9h6.6M1626.7 1350.9h6.6M1624.8 1351.1h6.6M1619.7 1352.2h6.6M1621.6 1352.8h6.6M1610.3 1353.7h6.6M1608.1 1353.2h6.6M1603.8 1354.7h6.6M1622.5 1355.4h6.6M1634.6 1356.5h6.6M1612.4 1357.2h6.6M1616.8 1358.5h6.6M1628.3 1359.9h6.6M1608.1 1360.1h6.6M1607.4 1361.9h6.6M1632.3 1362.4h6.6M1614.7 1363.9h6.6M1625.6 1363.2h6.6M1622.0 1364.1h6.6M1604.8 1365.2h6.6M1611.8 1365.6h6.6M1617.4 1366.6h6.6M1609.9 1366.4h6.6M1615.3 1367.1h6.6M1623.8 1367.0h6.6M1633.3 1368.2h6.6M1613.5 1369.1h6.6M1632.5 1369.6h6.6M1598.0 1370.8h6.6M1616.0 1370.9h6.6M1633.6 1371.3h6.6M1634.1 1371.9h6.6M1614.8 1372.9h6.6M1618.9 1373.6h6.6M1615.1 1373.4h6.6M1626.3 1374.4h6.6M1614.8 1374.9h6.6M1610.5 1375.8h6.6M1618.4 1375.6h6.6M1627.6 1376.6h6.6M1626.0 1376.1h6.6M1643.3 1377.8h6.6M1607.0 1378.2h6.6M1619.7 1378.1h6.6M1639.3 1379.6h6.6M1611.7 1380.7h6.6M1619.5 1380.3h6.6M1628.4 1381.5h6.6M1600.0 1381.2h6.6M1605.2 1382.1h6.6M1617.9 1382.1h6.6M1613.9 1383.8h6.6M1597.2 1384.4h6.6M1614.4 1384.7h6.6M1610.4 1385.8h6.6M1618.1 1385.3h6.6M1612.6 1387.0h6.6M1635.4 1386.9h6.6M1641.1 1387.3h6.6M1613.3 1389.0h6.6M1612.9 1388.7h6.6M1639.2 1389.5h6.6M1642.3 1391.0h6.6M1623.1 1390.6h6.6M1626.8 1391.8h6.6M1617.0 1391.4h6.6M1614.5 1392.7h6.6M1597.7 1392.6h6.6M1618.5 1393.9h6.6M1637.6 1393.4h6.6M1622.5 1394.3h6.6M1595.0 1394.5h6.6M1608.3 1395.1h6.6M1615.6 1395.5h6.6M1623.3 1396.5h6.6M1622.5 1396.7h6.6M1623.1 1397.1h6.6M1631.3 1397.1h6.6M1624.0 1398.3h6.6M1620.1 1398.8h6.6M1622.7 1399.5h6.6M1607.9 1400.8h6.6M1615.5 1400.8h6.6M1622.1 1401.4h6.6M1616.2 1402.8h6.6M1623.3 1402.9h6.6M1616.0 1403.7h6.6M1615.7 1403.3h6.6M1628.4 1404.3h6.6M1619.4 1405.0h6.6M1610.0 1405.8h6.6M1599.4 1406.3h6.6M1616.2 1406.7h6.6M1612.8 1407.8h6.6M1641.9 1407.7h6.6M1620.2 1408.0h6.6M1648.7 1408.8h6.6M1627.2 1409.3h6.6M1629.1 1409.3h6.6M1612.1 1410.8h6.6M1611.6 1410.7h6.6M1638.7 1411.6h6.6M1618.0 1411.2h6.6M1629.0 1412.3h6.6M1635.2 1412.1h6.6M1630.8 1413.7h6.6M1612.9 1413.5h6.6M1609.3 1414.4h6.6M1634.3 1414.1h6.6M1622.2 1415.9h6.6M1623.2 1415.3h6.6M1629.4 1416.1h6.6M1607.3 1417.5h6.6M1641.2 1417.3h6.6M1633.6 1418.6h6.6M1597.7 1418.8h6.6M1613.1 1419.7h6.6M1596.7 1419.5h6.6M1605.6 1420.4h6.6M1636.2 1420.2h6.6M1640.2 1422.0h6.6M1624.6 1421.8h6.6M1600.9 1422.3h6.6M1628.7 1422.5h6.6M1629.6 1423.9h6.6M1628.4 1423.8h6.6M1621.0 1424.9h6.6M1642.9 1424.9h6.6M1603.3 1425.6h6.6M1614.2 1426.1h6.6M1632.3 1426.8h6.6M1629.1 1428.0h6.6M1623.8 1427.9h6.6M1617.6 1428.7h6.6M1611.8 1428.3h6.6M1637.7 1430.0h6.6M1629.9 1429.2h6.6M1613.9 1430.0h6.6M1618.5 1430.0h6.6M1704.9 1388.0h6.6M1719.9 1388.2h6.6M1737.5 1389.4h6.6M1693.8 1390.9h6.6M1721.1 1391.1h6.6M1706.7 1393.1h6.6M1728.0 1395.0h6.6M1700.7 1395.4h6.6M1720.7 1397.6h6.6M1702.3 1401.4h6.6M1735.9 1403.6h6.6M1735.6 1405.9h6.6M1742.2 1406.9h6.6M1727.3 1409.9h6.6M1694.5 1411.6h6.6M1736.2 1412.4h6.6M1719.7 1413.6h6.6M1742.7 1414.4h6.6M1698.6 1415.8h6.6M1689.2 1416.7h6.6M1715.0 1417.7h6.6M1715.4 1419.2h6.6M1726.2 1421.2h6.6M1715.1 1423.0h6.6M1742.6 1423.9h6.6M1706.4 1424.3h6.6M1694.9 1425.9h6.6M1706.7 1426.5h6.6M1751.4 1427.1h6.6M1723.3 1428.8h6.6M1691.1 1429.1h6.6M1683.8 1430.0h6.6M1803.6 1373.0h6.6M1804.8 1379.0h6.6M1811.6 1385.9h6.6M1802.5 1393.1h6.6M1807.4 1394.9h6.6M1805.5 1395.4h6.6M1800.7 1396.5h6.6M1797.2 1399.4h6.6M1812.5 1401.4h6.6M1791.7 1402.4h6.6M1804.5 1402.3h6.6M1820.1 1403.5h6.6M1795.8 1403.5h6.6M1796.6 1404.6h6.6M1802.6 1404.5h6.6M1791.1 1405.8h6.6M1805.0 1405.1h6.6M1819.8 1406.9h6.6M1800.2 1407.0h6.6M1797.6 1407.6h6.6M1796.4 1408.1h6.6M1803.0 1409.9h6.6M1815.9 1410.7h6.6M1797.6 1411.8h6.6M1807.9 1412.0h6.6M1820.1 1412.3h6.6M1817.4 1413.5h6.6M1806.6 1414.6h6.6M1795.4 1414.3h6.6M1817.9 1415.4h6.6M1801.4 1416.4h6.6M1796.8 1416.4h6.6M1820.5 1417.4h6.6M1809.2 1418.7h6.6M1802.6 1419.1h6.6M1817.1 1419.1h6.6M1803.3 1420.7h6.6M1815.5 1420.3h6.6M1790.3 1421.2h6.6M1817.1 1421.2h6.6M1800.0 1422.0h6.6M1797.2 1423.7h6.6M1820.2 1423.5h6.6M1820.2 1424.2h6.6M1821.1 1425.8h6.6M1815.3 1426.2h6.6M1803.5 1427.2h6.6M1817.5 1427.0h6.6M1807.4 1428.9h6.6M1792.1 1428.7h6.6M1790.7 1429.6h6.6M1794.5 1429.6h6.6M1812.4 1430.0h6.6M1816.4 1430.0h6.6M1830.5 1420.1h6.6M1825.7 1427.4h6.6M1834.3 1428.3h6.6M1769.8 1428.8h6.6M1903.4 1398.8h6.6M1909.2 1403.0h6.6M1909.2 1405.4h6.6M1909.0 1407.5h6.6M1905.1 1408.7h6.6M1902.6 1411.3h6.6M1900.9 1413.0h6.6M1905.1 1413.2h6.6M1903.5 1415.8h6.6M1912.4 1416.4h6.6M1883.0 1421.8h6.6M1886.4 1422.1h6.6M1897.9 1423.4h6.6M1903.6 1424.3h6.6M1905.8 1425.8h6.6M1881.8 1426.9h6.6M1899.1 1427.2h6.6M1877.5 1428.3h6.6M1870.9 1429.0h6.6M1875.0 1430.0h6.6M1917.7 1430.0h6.6M1970.7 1422.8h6.6M1972.2 1424.9h6.6M1982.4 1426.6h6.6M1960.7 1429.5h6.6" fill="none" stroke="#ed1c24" stroke-width="6.60"/>
<path d="M327.5 1432.3h9M358.2 1432.3h9M419.6 1432.3h9M450.3 1432.3h9M511.7 1432.3h9M542.4 1432.3h9M603.8 1432.3h9M634.5 1432.3h9M695.9 1432.3h9M726.6 1432.3h9M788.0 1432.3h9M818.7 1432.3h9M880.1 1432.3h9M910.8 1432.3h9M972.2 1432.3h9M1002.9 1432.3h9M1064.3 1432.3h9M1095.0 1432.3h9M1156.4 1432.3h9M1187.1 1432.3h9M1248.5 1432.3h9M1279.2 1432.3h9M1340.6 1432.3h9M1371.3 1432.3h9M1432.7 1432.3h9M1463.4 1432.3h9M1524.8 1432.3h9M1555.5 1432.3h9M1616.9 1432.3h9M1647.6 1432.3h9M1709.0 1432.3h9M1739.7 1432.3h9M1801.1 1432.3h9M1831.8 1432.3h9M1893.2 1432.3h9M1923.9 1432.3h9M1985.3 1432.3h9" fill="none" stroke="#ed1c24" stroke-width="3" opacity="0.85"/>
<path d="M390.9 1429.5h9M483.0 1429.5h9M575.1 1429.5h9M667.2 1429.5h9M759.3 1429.5h9M851.4 1429.5h9M943.5 1429.5h9M1035.6 1429.5h9M1127.7 1429.5h9M1219.8 1429.5h9M1311.9 1429.5h9M1404.0 1429.5h9M1496.1 1429.5h9M1588.2 1429.5h9M1680.3 1429.5h9M1772.4 1429.5h9M1864.5 1429.5h9M1956.6 1429.5h9" fill="none" stroke="#ed1c24" stroke-width="7"/>
</g>
<text class="tk" x="148.6" y="1448.0" textLength="151.6" lengthAdjust="spacingAndGlyphs">0.000</text>
<text class="tk" x="148.6" y="1132.6" textLength="151.6" lengthAdjust="spacingAndGlyphs">0.005</text>
<text class="tk" x="148.6" y="817.2" textLength="151.6" lengthAdjust="spacingAndGlyphs">0.010</text>
<text class="tk" x="148.6" y="501.7" textLength="151.6" lengthAdjust="spacingAndGlyphs">0.015</text>
<text class="tk" x="148.6" y="186.3" textLength="151.6" lengthAdjust="spacingAndGlyphs">0.020</text>
<text class="tk" x="2019.3" y="1448.0" textLength="152.6" lengthAdjust="spacingAndGlyphs">0.000</text>
<text class="tk" x="2019.3" y="1042.2" textLength="152.6" lengthAdjust="spacingAndGlyphs">0.002</text>
<text class="tk" x="2019.3" y="636.4" textLength="152.6" lengthAdjust="spacingAndGlyphs">0.004</text>
<text class="tk" x="2019.3" y="230.6" textLength="152.6" lengthAdjust="spacingAndGlyphs">0.006</text>
<text class="tk" text-anchor="middle" x="420.7" y="1502.8">-4</text>
<text class="tk" text-anchor="middle" x="605.2" y="1502.8">-3</text>
<text class="tk" text-anchor="middle" x="789.7" y="1502.8">-2</text>
<text class="tk" text-anchor="middle" x="974.2" y="1502.8">-1</text>
<text class="tk" text-anchor="middle" x="1159.7" y="1502.8">0</text>
<text class="tk" text-anchor="middle" x="1344.2" y="1502.8">1</text>
<text class="tk" text-anchor="middle" x="1528.7" y="1502.8">2</text>
<text class="tk" text-anchor="middle" x="1713.2" y="1502.8">3</text>
<text class="tk" text-anchor="middle" x="1897.7" y="1502.8">4</text>
<text transform="translate(80.8,960) rotate(-90) scale(0.823,0.93)" font-size="100" fill="#231f20">Population</text>
<text transform="translate(808,1600.5) scale(0.822,0.75)" font-size="100" fill="#231f20">Time (optical cycle)</text>
<text transform="translate(2226.4,202.7) rotate(90) scale(0.915,1.013)" font-size="100" fill="#ed1c24">Ionization Rate (a.u.)</text>
</svg></body></html>
